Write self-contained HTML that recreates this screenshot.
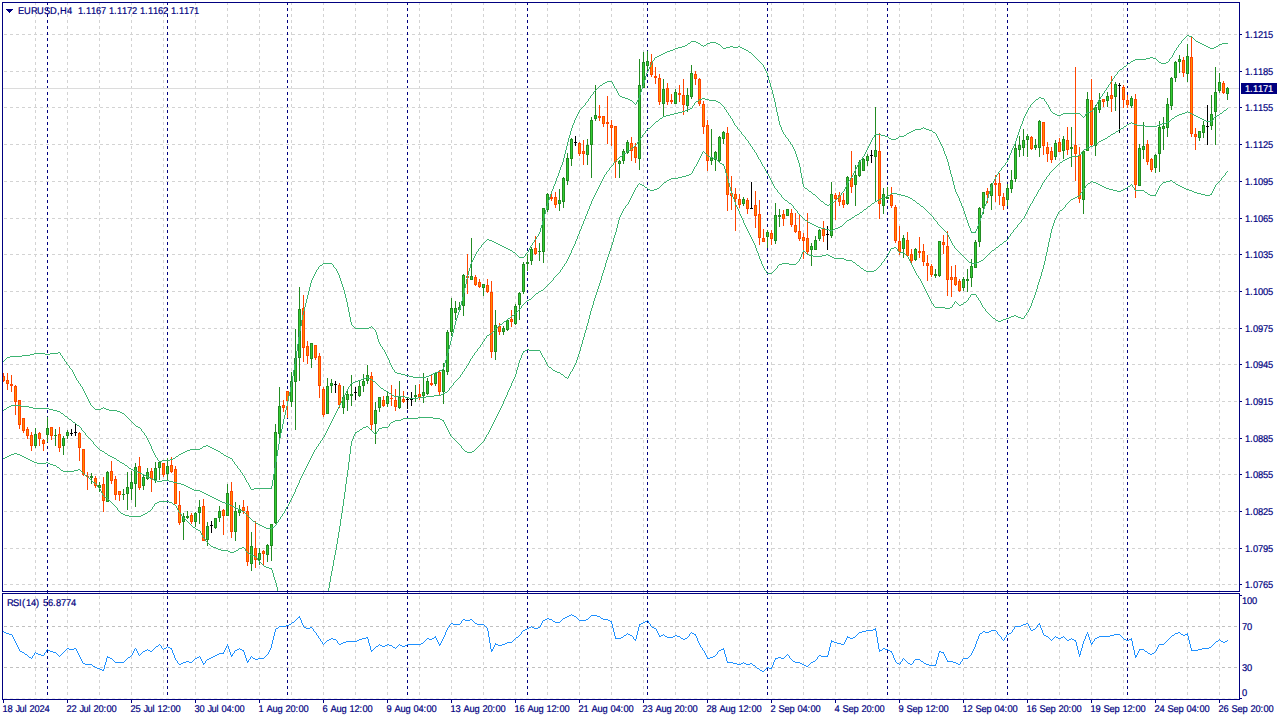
<!DOCTYPE html>
<html><head><meta charset="utf-8"><title>EURUSD,H4</title>
<style>
html,body{margin:0;padding:0;background:#fff;width:1280px;height:720px;overflow:hidden}
svg{display:block;position:absolute;left:0;top:0}
text{font-family:"Liberation Sans",sans-serif;font-size:9.8px;shape-rendering:auto;white-space:pre;text-rendering:geometricPrecision}
</style></head><body>
<svg width="1280" height="720" viewBox="0 0 1280 720" shape-rendering="crispEdges">
<defs>
<pattern id="vd" x="3" y="2" width="32" height="6" patternUnits="userSpaceOnUse"><rect x="0" y="0" width="1" height="3" fill="#D3D3D3"/></pattern>
<pattern id="hd" x="4" y="0" width="6" height="1" patternUnits="userSpaceOnUse"><rect x="0" y="0" width="3" height="1" fill="#D3D3D3"/></pattern>
<pattern id="hl" x="4" y="0" width="6" height="1" patternUnits="userSpaceOnUse"><rect x="0" y="0" width="3" height="1" fill="#C0C0C0"/></pattern>
<pattern id="sd" x="47" y="2" width="120" height="6" patternUnits="userSpaceOnUse"><rect x="0" y="0" width="1" height="3" fill="#000080"/></pattern>
</defs>
<rect x="35" y="3" width="1204" height="695" fill="url(#vd)"/>
<rect x="3" y="34" width="1236" height="1" fill="url(#hd)"/>
<rect x="3" y="71" width="1236" height="1" fill="url(#hd)"/>
<rect x="3" y="107" width="1236" height="1" fill="url(#hd)"/>
<rect x="3" y="144" width="1236" height="1" fill="url(#hd)"/>
<rect x="3" y="181" width="1236" height="1" fill="url(#hd)"/>
<rect x="3" y="218" width="1236" height="1" fill="url(#hd)"/>
<rect x="3" y="254" width="1236" height="1" fill="url(#hd)"/>
<rect x="3" y="291" width="1236" height="1" fill="url(#hd)"/>
<rect x="3" y="328" width="1236" height="1" fill="url(#hd)"/>
<rect x="3" y="364" width="1236" height="1" fill="url(#hd)"/>
<rect x="3" y="401" width="1236" height="1" fill="url(#hd)"/>
<rect x="3" y="438" width="1236" height="1" fill="url(#hd)"/>
<rect x="3" y="474" width="1236" height="1" fill="url(#hd)"/>
<rect x="3" y="511" width="1236" height="1" fill="url(#hd)"/>
<rect x="3" y="548" width="1236" height="1" fill="url(#hd)"/>
<rect x="3" y="584" width="1236" height="1" fill="url(#hd)"/>
<rect x="3" y="626" width="1236" height="1" fill="url(#hl)"/>
<rect x="3" y="667" width="1236" height="1" fill="url(#hl)"/>
<rect x="3" y="698" width="1236" height="1" fill="url(#hd)" opacity="0.5"/>
<rect x="47" y="3" width="1192" height="695" fill="url(#sd)"/>
<rect x="3" y="88" width="1236" height="1" fill="#DCDCDC"/>
<rect x="3" y="373" width="1" height="9" fill="#FF4500"/>
<rect x="2" y="376" width="3" height="5" fill="#FF4500"/>
<rect x="3" y="377" width="1" height="3" fill="#FF8C00"/>
<rect x="7" y="373" width="1" height="17" fill="#FF4500"/>
<rect x="6" y="380" width="3" height="4" fill="#FF4500"/>
<rect x="7" y="381" width="1" height="2" fill="#FF8C00"/>
<rect x="11" y="375" width="1" height="17" fill="#FF4500"/>
<rect x="10" y="384" width="3" height="2" fill="#FF4500"/>
<rect x="15" y="385" width="1" height="30" fill="#FF4500"/>
<rect x="14" y="386" width="3" height="16" fill="#FF4500"/>
<rect x="15" y="387" width="1" height="14" fill="#FF8C00"/>
<rect x="19" y="400" width="1" height="29" fill="#FF4500"/>
<rect x="18" y="400" width="3" height="25" fill="#FF4500"/>
<rect x="19" y="401" width="1" height="23" fill="#FF8C00"/>
<rect x="23" y="418" width="1" height="15" fill="#FF4500"/>
<rect x="22" y="418" width="3" height="13" fill="#FF4500"/>
<rect x="23" y="419" width="1" height="11" fill="#FF8C00"/>
<rect x="27" y="427" width="1" height="12" fill="#FF4500"/>
<rect x="26" y="429" width="3" height="7" fill="#FF4500"/>
<rect x="27" y="430" width="1" height="5" fill="#FF8C00"/>
<rect x="31" y="432" width="1" height="19" fill="#FF4500"/>
<rect x="30" y="435" width="3" height="11" fill="#FF4500"/>
<rect x="31" y="436" width="1" height="9" fill="#FF8C00"/>
<rect x="35" y="428" width="1" height="20" fill="#228B22"/>
<rect x="34" y="434" width="3" height="12" fill="#228B22"/>
<rect x="35" y="435" width="1" height="10" fill="#32CD32"/>
<rect x="39" y="432" width="1" height="14" fill="#FF4500"/>
<rect x="38" y="433" width="3" height="6" fill="#FF4500"/>
<rect x="39" y="434" width="1" height="4" fill="#FF8C00"/>
<rect x="43" y="439" width="1" height="12" fill="#FF4500"/>
<rect x="42" y="440" width="3" height="4" fill="#FF4500"/>
<rect x="43" y="441" width="1" height="2" fill="#FF8C00"/>
<rect x="47" y="417" width="1" height="25" fill="#228B22"/>
<rect x="46" y="428" width="3" height="7" fill="#228B22"/>
<rect x="47" y="429" width="1" height="5" fill="#32CD32"/>
<rect x="51" y="427" width="1" height="13" fill="#FF4500"/>
<rect x="50" y="427" width="3" height="9" fill="#FF4500"/>
<rect x="51" y="428" width="1" height="7" fill="#FF8C00"/>
<rect x="55" y="429" width="1" height="17" fill="#228B22"/>
<rect x="54" y="435" width="3" height="1" fill="#228B22"/>
<rect x="59" y="427" width="1" height="25" fill="#FF4500"/>
<rect x="58" y="434" width="3" height="14" fill="#FF4500"/>
<rect x="59" y="435" width="1" height="12" fill="#FF8C00"/>
<rect x="63" y="436" width="1" height="19" fill="#228B22"/>
<rect x="62" y="438" width="3" height="8" fill="#228B22"/>
<rect x="63" y="439" width="1" height="6" fill="#32CD32"/>
<rect x="67" y="430" width="1" height="9" fill="#228B22"/>
<rect x="66" y="432" width="3" height="4" fill="#228B22"/>
<rect x="67" y="433" width="1" height="2" fill="#32CD32"/>
<rect x="71" y="429" width="1" height="7" fill="#000"/>
<rect x="70" y="433" width="3" height="1" fill="#000"/>
<rect x="75" y="424" width="1" height="12" fill="#000"/>
<rect x="74" y="432" width="3" height="1" fill="#000"/>
<rect x="79" y="432" width="1" height="29" fill="#FF4500"/>
<rect x="78" y="433" width="3" height="15" fill="#FF4500"/>
<rect x="79" y="434" width="1" height="13" fill="#FF8C00"/>
<rect x="83" y="449" width="1" height="27" fill="#FF4500"/>
<rect x="82" y="449" width="3" height="26" fill="#FF4500"/>
<rect x="83" y="450" width="1" height="24" fill="#FF8C00"/>
<rect x="87" y="472" width="1" height="18" fill="#FF4500"/>
<rect x="86" y="476" width="3" height="1" fill="#FF4500"/>
<rect x="91" y="473" width="1" height="11" fill="#228B22"/>
<rect x="90" y="476" width="3" height="2" fill="#228B22"/>
<rect x="95" y="476" width="1" height="12" fill="#FF4500"/>
<rect x="94" y="478" width="3" height="8" fill="#FF4500"/>
<rect x="95" y="479" width="1" height="6" fill="#FF8C00"/>
<rect x="99" y="482" width="1" height="10" fill="#228B22"/>
<rect x="98" y="485" width="3" height="3" fill="#228B22"/>
<rect x="99" y="486" width="1" height="1" fill="#32CD32"/>
<rect x="103" y="477" width="1" height="35" fill="#FF4500"/>
<rect x="102" y="484" width="3" height="17" fill="#FF4500"/>
<rect x="103" y="485" width="1" height="15" fill="#FF8C00"/>
<rect x="107" y="471" width="1" height="31" fill="#228B22"/>
<rect x="106" y="472" width="3" height="30" fill="#228B22"/>
<rect x="107" y="473" width="1" height="28" fill="#32CD32"/>
<rect x="111" y="461" width="1" height="23" fill="#FF4500"/>
<rect x="110" y="471" width="3" height="10" fill="#FF4500"/>
<rect x="111" y="472" width="1" height="8" fill="#FF8C00"/>
<rect x="115" y="476" width="1" height="24" fill="#FF4500"/>
<rect x="114" y="479" width="3" height="16" fill="#FF4500"/>
<rect x="115" y="480" width="1" height="14" fill="#FF8C00"/>
<rect x="119" y="491" width="1" height="10" fill="#FF4500"/>
<rect x="118" y="491" width="3" height="4" fill="#FF4500"/>
<rect x="119" y="492" width="1" height="2" fill="#FF8C00"/>
<rect x="123" y="489" width="1" height="11" fill="#228B22"/>
<rect x="122" y="494" width="3" height="1" fill="#228B22"/>
<rect x="127" y="472" width="1" height="38" fill="#228B22"/>
<rect x="126" y="487" width="3" height="7" fill="#228B22"/>
<rect x="127" y="488" width="1" height="5" fill="#32CD32"/>
<rect x="131" y="471" width="1" height="29" fill="#228B22"/>
<rect x="130" y="482" width="3" height="7" fill="#228B22"/>
<rect x="131" y="483" width="1" height="5" fill="#32CD32"/>
<rect x="135" y="463" width="1" height="44" fill="#228B22"/>
<rect x="134" y="467" width="3" height="17" fill="#228B22"/>
<rect x="135" y="468" width="1" height="15" fill="#32CD32"/>
<rect x="139" y="457" width="1" height="33" fill="#FF4500"/>
<rect x="138" y="466" width="3" height="22" fill="#FF4500"/>
<rect x="139" y="467" width="1" height="20" fill="#FF8C00"/>
<rect x="143" y="475" width="1" height="15" fill="#228B22"/>
<rect x="142" y="477" width="3" height="9" fill="#228B22"/>
<rect x="143" y="478" width="1" height="7" fill="#32CD32"/>
<rect x="147" y="468" width="1" height="12" fill="#228B22"/>
<rect x="146" y="472" width="3" height="7" fill="#228B22"/>
<rect x="147" y="473" width="1" height="5" fill="#32CD32"/>
<rect x="151" y="468" width="1" height="24" fill="#FF4500"/>
<rect x="150" y="471" width="3" height="8" fill="#FF4500"/>
<rect x="151" y="472" width="1" height="6" fill="#FF8C00"/>
<rect x="155" y="462" width="1" height="21" fill="#228B22"/>
<rect x="154" y="468" width="3" height="12" fill="#228B22"/>
<rect x="155" y="469" width="1" height="10" fill="#32CD32"/>
<rect x="159" y="461" width="1" height="19" fill="#228B22"/>
<rect x="158" y="462" width="3" height="6" fill="#228B22"/>
<rect x="159" y="463" width="1" height="4" fill="#32CD32"/>
<rect x="163" y="463" width="1" height="14" fill="#FF4500"/>
<rect x="162" y="463" width="3" height="12" fill="#FF4500"/>
<rect x="163" y="464" width="1" height="10" fill="#FF8C00"/>
<rect x="167" y="458" width="1" height="22" fill="#228B22"/>
<rect x="166" y="466" width="3" height="8" fill="#228B22"/>
<rect x="167" y="467" width="1" height="6" fill="#32CD32"/>
<rect x="171" y="457" width="1" height="16" fill="#FF4500"/>
<rect x="170" y="465" width="3" height="7" fill="#FF4500"/>
<rect x="171" y="466" width="1" height="5" fill="#FF8C00"/>
<rect x="175" y="466" width="1" height="38" fill="#FF4500"/>
<rect x="174" y="469" width="3" height="35" fill="#FF4500"/>
<rect x="175" y="470" width="1" height="33" fill="#FF8C00"/>
<rect x="179" y="491" width="1" height="34" fill="#FF4500"/>
<rect x="178" y="505" width="3" height="18" fill="#FF4500"/>
<rect x="179" y="506" width="1" height="16" fill="#FF8C00"/>
<rect x="183" y="513" width="1" height="27" fill="#228B22"/>
<rect x="182" y="516" width="3" height="6" fill="#228B22"/>
<rect x="183" y="517" width="1" height="4" fill="#32CD32"/>
<rect x="187" y="511" width="1" height="8" fill="#228B22"/>
<rect x="186" y="516" width="3" height="2" fill="#228B22"/>
<rect x="191" y="513" width="1" height="11" fill="#FF4500"/>
<rect x="190" y="515" width="3" height="7" fill="#FF4500"/>
<rect x="191" y="516" width="1" height="5" fill="#FF8C00"/>
<rect x="195" y="512" width="1" height="15" fill="#228B22"/>
<rect x="194" y="513" width="3" height="9" fill="#228B22"/>
<rect x="195" y="514" width="1" height="7" fill="#32CD32"/>
<rect x="199" y="500" width="1" height="24" fill="#228B22"/>
<rect x="198" y="507" width="3" height="6" fill="#228B22"/>
<rect x="199" y="508" width="1" height="4" fill="#32CD32"/>
<rect x="203" y="499" width="1" height="42" fill="#FF4500"/>
<rect x="202" y="506" width="3" height="35" fill="#FF4500"/>
<rect x="203" y="507" width="1" height="33" fill="#FF8C00"/>
<rect x="207" y="522" width="1" height="24" fill="#228B22"/>
<rect x="206" y="526" width="3" height="14" fill="#228B22"/>
<rect x="207" y="527" width="1" height="12" fill="#32CD32"/>
<rect x="211" y="521" width="1" height="12" fill="#000"/>
<rect x="210" y="525" width="3" height="1" fill="#000"/>
<rect x="215" y="518" width="1" height="11" fill="#228B22"/>
<rect x="214" y="518" width="3" height="10" fill="#228B22"/>
<rect x="215" y="519" width="1" height="8" fill="#32CD32"/>
<rect x="219" y="506" width="1" height="16" fill="#228B22"/>
<rect x="218" y="511" width="3" height="7" fill="#228B22"/>
<rect x="219" y="512" width="1" height="5" fill="#32CD32"/>
<rect x="223" y="509" width="1" height="26" fill="#FF4500"/>
<rect x="222" y="510" width="3" height="6" fill="#FF4500"/>
<rect x="223" y="511" width="1" height="4" fill="#FF8C00"/>
<rect x="227" y="484" width="1" height="32" fill="#228B22"/>
<rect x="226" y="493" width="3" height="23" fill="#228B22"/>
<rect x="227" y="494" width="1" height="21" fill="#32CD32"/>
<rect x="231" y="482" width="1" height="56" fill="#FF4500"/>
<rect x="230" y="491" width="3" height="41" fill="#FF4500"/>
<rect x="231" y="492" width="1" height="39" fill="#FF8C00"/>
<rect x="235" y="502" width="1" height="39" fill="#228B22"/>
<rect x="234" y="511" width="3" height="21" fill="#228B22"/>
<rect x="235" y="512" width="1" height="19" fill="#32CD32"/>
<rect x="239" y="505" width="1" height="11" fill="#228B22"/>
<rect x="238" y="509" width="3" height="4" fill="#228B22"/>
<rect x="239" y="510" width="1" height="2" fill="#32CD32"/>
<rect x="243" y="500" width="1" height="14" fill="#FF4500"/>
<rect x="242" y="507" width="3" height="4" fill="#FF4500"/>
<rect x="243" y="508" width="1" height="2" fill="#FF8C00"/>
<rect x="247" y="506" width="1" height="60" fill="#FF4500"/>
<rect x="246" y="511" width="3" height="51" fill="#FF4500"/>
<rect x="247" y="512" width="1" height="49" fill="#FF8C00"/>
<rect x="251" y="532" width="1" height="39" fill="#228B22"/>
<rect x="250" y="546" width="3" height="18" fill="#228B22"/>
<rect x="251" y="547" width="1" height="16" fill="#32CD32"/>
<rect x="255" y="521" width="1" height="47" fill="#FF4500"/>
<rect x="254" y="548" width="3" height="12" fill="#FF4500"/>
<rect x="255" y="549" width="1" height="10" fill="#FF8C00"/>
<rect x="259" y="548" width="1" height="17" fill="#228B22"/>
<rect x="258" y="553" width="3" height="7" fill="#228B22"/>
<rect x="259" y="554" width="1" height="5" fill="#32CD32"/>
<rect x="263" y="550" width="1" height="15" fill="#FF4500"/>
<rect x="262" y="551" width="3" height="3" fill="#FF4500"/>
<rect x="263" y="552" width="1" height="1" fill="#FF8C00"/>
<rect x="267" y="544" width="1" height="18" fill="#228B22"/>
<rect x="266" y="545" width="3" height="10" fill="#228B22"/>
<rect x="267" y="546" width="1" height="8" fill="#32CD32"/>
<rect x="271" y="524" width="1" height="37" fill="#228B22"/>
<rect x="270" y="524" width="3" height="22" fill="#228B22"/>
<rect x="271" y="525" width="1" height="20" fill="#32CD32"/>
<rect x="275" y="424" width="1" height="100" fill="#228B22"/>
<rect x="274" y="432" width="3" height="91" fill="#228B22"/>
<rect x="275" y="433" width="1" height="89" fill="#32CD32"/>
<rect x="279" y="387" width="1" height="53" fill="#228B22"/>
<rect x="278" y="406" width="3" height="28" fill="#228B22"/>
<rect x="279" y="407" width="1" height="26" fill="#32CD32"/>
<rect x="283" y="400" width="1" height="12" fill="#FF4500"/>
<rect x="282" y="405" width="3" height="3" fill="#FF4500"/>
<rect x="283" y="406" width="1" height="1" fill="#FF8C00"/>
<rect x="287" y="391" width="1" height="27" fill="#FF4500"/>
<rect x="286" y="391" width="3" height="10" fill="#FF4500"/>
<rect x="287" y="392" width="1" height="8" fill="#FF8C00"/>
<rect x="291" y="372" width="1" height="35" fill="#228B22"/>
<rect x="290" y="381" width="3" height="21" fill="#228B22"/>
<rect x="291" y="382" width="1" height="19" fill="#32CD32"/>
<rect x="295" y="329" width="1" height="101" fill="#228B22"/>
<rect x="294" y="358" width="3" height="24" fill="#228B22"/>
<rect x="295" y="359" width="1" height="22" fill="#32CD32"/>
<rect x="299" y="287" width="1" height="94" fill="#228B22"/>
<rect x="298" y="309" width="3" height="49" fill="#228B22"/>
<rect x="299" y="310" width="1" height="47" fill="#32CD32"/>
<rect x="303" y="295" width="1" height="67" fill="#FF4500"/>
<rect x="302" y="308" width="3" height="40" fill="#FF4500"/>
<rect x="303" y="309" width="1" height="38" fill="#FF8C00"/>
<rect x="307" y="341" width="1" height="23" fill="#FF4500"/>
<rect x="306" y="346" width="3" height="10" fill="#FF4500"/>
<rect x="307" y="347" width="1" height="8" fill="#FF8C00"/>
<rect x="311" y="343" width="1" height="25" fill="#228B22"/>
<rect x="310" y="343" width="3" height="16" fill="#228B22"/>
<rect x="311" y="344" width="1" height="14" fill="#32CD32"/>
<rect x="315" y="345" width="1" height="15" fill="#FF4500"/>
<rect x="314" y="345" width="3" height="13" fill="#FF4500"/>
<rect x="315" y="346" width="1" height="11" fill="#FF8C00"/>
<rect x="319" y="353" width="1" height="45" fill="#FF4500"/>
<rect x="318" y="356" width="3" height="30" fill="#FF4500"/>
<rect x="319" y="357" width="1" height="28" fill="#FF8C00"/>
<rect x="323" y="387" width="1" height="30" fill="#FF4500"/>
<rect x="322" y="389" width="3" height="26" fill="#FF4500"/>
<rect x="323" y="390" width="1" height="24" fill="#FF8C00"/>
<rect x="327" y="378" width="1" height="36" fill="#228B22"/>
<rect x="326" y="386" width="3" height="28" fill="#228B22"/>
<rect x="327" y="387" width="1" height="26" fill="#32CD32"/>
<rect x="331" y="379" width="1" height="14" fill="#228B22"/>
<rect x="330" y="383" width="3" height="3" fill="#228B22"/>
<rect x="331" y="384" width="1" height="1" fill="#32CD32"/>
<rect x="335" y="381" width="1" height="12" fill="#000"/>
<rect x="334" y="384" width="3" height="1" fill="#000"/>
<rect x="339" y="383" width="1" height="25" fill="#FF4500"/>
<rect x="338" y="385" width="3" height="20" fill="#FF4500"/>
<rect x="339" y="386" width="1" height="18" fill="#FF8C00"/>
<rect x="343" y="386" width="1" height="28" fill="#228B22"/>
<rect x="342" y="397" width="3" height="11" fill="#228B22"/>
<rect x="343" y="398" width="1" height="9" fill="#32CD32"/>
<rect x="347" y="390" width="1" height="21" fill="#228B22"/>
<rect x="346" y="394" width="3" height="6" fill="#228B22"/>
<rect x="347" y="395" width="1" height="4" fill="#32CD32"/>
<rect x="351" y="375" width="1" height="31" fill="#228B22"/>
<rect x="350" y="394" width="3" height="2" fill="#228B22"/>
<rect x="355" y="387" width="1" height="13" fill="#000"/>
<rect x="354" y="392" width="3" height="1" fill="#000"/>
<rect x="359" y="380" width="1" height="17" fill="#228B22"/>
<rect x="358" y="386" width="3" height="10" fill="#228B22"/>
<rect x="359" y="387" width="1" height="8" fill="#32CD32"/>
<rect x="363" y="374" width="1" height="18" fill="#228B22"/>
<rect x="362" y="381" width="3" height="5" fill="#228B22"/>
<rect x="363" y="382" width="1" height="3" fill="#32CD32"/>
<rect x="367" y="365" width="1" height="19" fill="#228B22"/>
<rect x="366" y="375" width="3" height="6" fill="#228B22"/>
<rect x="367" y="376" width="1" height="4" fill="#32CD32"/>
<rect x="371" y="372" width="1" height="59" fill="#FF4500"/>
<rect x="370" y="376" width="3" height="49" fill="#FF4500"/>
<rect x="371" y="377" width="1" height="47" fill="#FF8C00"/>
<rect x="375" y="402" width="1" height="42" fill="#228B22"/>
<rect x="374" y="410" width="3" height="14" fill="#228B22"/>
<rect x="375" y="411" width="1" height="12" fill="#32CD32"/>
<rect x="379" y="397" width="1" height="15" fill="#228B22"/>
<rect x="378" y="397" width="3" height="11" fill="#228B22"/>
<rect x="379" y="398" width="1" height="9" fill="#32CD32"/>
<rect x="383" y="396" width="1" height="11" fill="#FF4500"/>
<rect x="382" y="400" width="3" height="6" fill="#FF4500"/>
<rect x="383" y="401" width="1" height="4" fill="#FF8C00"/>
<rect x="387" y="391" width="1" height="16" fill="#228B22"/>
<rect x="386" y="396" width="3" height="8" fill="#228B22"/>
<rect x="387" y="397" width="1" height="6" fill="#32CD32"/>
<rect x="391" y="385" width="1" height="21" fill="#FF4500"/>
<rect x="390" y="398" width="3" height="1" fill="#FF4500"/>
<rect x="395" y="389" width="1" height="22" fill="#FF4500"/>
<rect x="394" y="400" width="3" height="7" fill="#FF4500"/>
<rect x="395" y="401" width="1" height="5" fill="#FF8C00"/>
<rect x="399" y="381" width="1" height="28" fill="#228B22"/>
<rect x="398" y="397" width="3" height="11" fill="#228B22"/>
<rect x="399" y="398" width="1" height="9" fill="#32CD32"/>
<rect x="403" y="391" width="1" height="12" fill="#FF4500"/>
<rect x="402" y="399" width="3" height="3" fill="#FF4500"/>
<rect x="403" y="400" width="1" height="1" fill="#FF8C00"/>
<rect x="407" y="397" width="1" height="12" fill="#000"/>
<rect x="406" y="399" width="3" height="1" fill="#000"/>
<rect x="411" y="392" width="1" height="14" fill="#000"/>
<rect x="410" y="399" width="3" height="1" fill="#000"/>
<rect x="415" y="385" width="1" height="17" fill="#228B22"/>
<rect x="414" y="395" width="3" height="2" fill="#228B22"/>
<rect x="419" y="384" width="1" height="16" fill="#FF4500"/>
<rect x="418" y="394" width="3" height="3" fill="#FF4500"/>
<rect x="419" y="395" width="1" height="1" fill="#FF8C00"/>
<rect x="423" y="373" width="1" height="30" fill="#228B22"/>
<rect x="422" y="392" width="3" height="4" fill="#228B22"/>
<rect x="423" y="393" width="1" height="2" fill="#32CD32"/>
<rect x="427" y="378" width="1" height="17" fill="#228B22"/>
<rect x="426" y="381" width="3" height="13" fill="#228B22"/>
<rect x="427" y="382" width="1" height="11" fill="#32CD32"/>
<rect x="431" y="375" width="1" height="11" fill="#FF4500"/>
<rect x="430" y="383" width="3" height="2" fill="#FF4500"/>
<rect x="435" y="372" width="1" height="14" fill="#228B22"/>
<rect x="434" y="373" width="3" height="11" fill="#228B22"/>
<rect x="435" y="374" width="1" height="9" fill="#32CD32"/>
<rect x="439" y="370" width="1" height="25" fill="#FF4500"/>
<rect x="438" y="372" width="3" height="20" fill="#FF4500"/>
<rect x="439" y="373" width="1" height="18" fill="#FF8C00"/>
<rect x="443" y="363" width="1" height="41" fill="#228B22"/>
<rect x="442" y="370" width="3" height="22" fill="#228B22"/>
<rect x="443" y="371" width="1" height="20" fill="#32CD32"/>
<rect x="447" y="330" width="1" height="45" fill="#228B22"/>
<rect x="446" y="332" width="3" height="40" fill="#228B22"/>
<rect x="447" y="333" width="1" height="38" fill="#32CD32"/>
<rect x="451" y="298" width="1" height="38" fill="#228B22"/>
<rect x="450" y="308" width="3" height="24" fill="#228B22"/>
<rect x="451" y="309" width="1" height="22" fill="#32CD32"/>
<rect x="455" y="301" width="1" height="19" fill="#228B22"/>
<rect x="454" y="308" width="3" height="5" fill="#228B22"/>
<rect x="455" y="309" width="1" height="3" fill="#32CD32"/>
<rect x="459" y="302" width="1" height="10" fill="#228B22"/>
<rect x="458" y="307" width="3" height="3" fill="#228B22"/>
<rect x="459" y="308" width="1" height="1" fill="#32CD32"/>
<rect x="463" y="274" width="1" height="42" fill="#228B22"/>
<rect x="462" y="275" width="3" height="31" fill="#228B22"/>
<rect x="463" y="276" width="1" height="29" fill="#32CD32"/>
<rect x="467" y="254" width="1" height="40" fill="#FF4500"/>
<rect x="466" y="276" width="3" height="2" fill="#FF4500"/>
<rect x="471" y="238" width="1" height="42" fill="#228B22"/>
<rect x="470" y="276" width="3" height="4" fill="#228B22"/>
<rect x="471" y="277" width="1" height="2" fill="#32CD32"/>
<rect x="475" y="275" width="1" height="11" fill="#FF4500"/>
<rect x="474" y="277" width="3" height="8" fill="#FF4500"/>
<rect x="475" y="278" width="1" height="6" fill="#FF8C00"/>
<rect x="479" y="279" width="1" height="9" fill="#FF4500"/>
<rect x="478" y="282" width="3" height="5" fill="#FF4500"/>
<rect x="479" y="283" width="1" height="3" fill="#FF8C00"/>
<rect x="483" y="284" width="1" height="12" fill="#228B22"/>
<rect x="482" y="284" width="3" height="4" fill="#228B22"/>
<rect x="483" y="285" width="1" height="2" fill="#32CD32"/>
<rect x="487" y="279" width="1" height="14" fill="#FF4500"/>
<rect x="486" y="285" width="3" height="7" fill="#FF4500"/>
<rect x="487" y="286" width="1" height="5" fill="#FF8C00"/>
<rect x="491" y="281" width="1" height="77" fill="#FF4500"/>
<rect x="490" y="292" width="3" height="60" fill="#FF4500"/>
<rect x="491" y="293" width="1" height="58" fill="#FF8C00"/>
<rect x="495" y="310" width="1" height="50" fill="#228B22"/>
<rect x="494" y="325" width="3" height="27" fill="#228B22"/>
<rect x="495" y="326" width="1" height="25" fill="#32CD32"/>
<rect x="499" y="323" width="1" height="12" fill="#FF4500"/>
<rect x="498" y="326" width="3" height="6" fill="#FF4500"/>
<rect x="499" y="327" width="1" height="4" fill="#FF8C00"/>
<rect x="503" y="326" width="1" height="9" fill="#228B22"/>
<rect x="502" y="328" width="3" height="4" fill="#228B22"/>
<rect x="503" y="329" width="1" height="2" fill="#32CD32"/>
<rect x="507" y="319" width="1" height="12" fill="#228B22"/>
<rect x="506" y="320" width="3" height="10" fill="#228B22"/>
<rect x="507" y="321" width="1" height="8" fill="#32CD32"/>
<rect x="511" y="310" width="1" height="17" fill="#FF4500"/>
<rect x="510" y="319" width="3" height="3" fill="#FF4500"/>
<rect x="511" y="320" width="1" height="1" fill="#FF8C00"/>
<rect x="515" y="304" width="1" height="21" fill="#228B22"/>
<rect x="514" y="306" width="3" height="18" fill="#228B22"/>
<rect x="515" y="307" width="1" height="16" fill="#32CD32"/>
<rect x="519" y="292" width="1" height="28" fill="#228B22"/>
<rect x="518" y="293" width="3" height="12" fill="#228B22"/>
<rect x="519" y="294" width="1" height="10" fill="#32CD32"/>
<rect x="523" y="262" width="1" height="32" fill="#228B22"/>
<rect x="522" y="264" width="3" height="28" fill="#228B22"/>
<rect x="523" y="265" width="1" height="26" fill="#32CD32"/>
<rect x="527" y="254" width="1" height="17" fill="#228B22"/>
<rect x="526" y="262" width="3" height="2" fill="#228B22"/>
<rect x="531" y="247" width="1" height="18" fill="#228B22"/>
<rect x="530" y="249" width="3" height="12" fill="#228B22"/>
<rect x="531" y="250" width="1" height="10" fill="#32CD32"/>
<rect x="535" y="236" width="1" height="19" fill="#FF4500"/>
<rect x="534" y="248" width="3" height="6" fill="#FF4500"/>
<rect x="535" y="249" width="1" height="4" fill="#FF8C00"/>
<rect x="539" y="243" width="1" height="18" fill="#228B22"/>
<rect x="538" y="251" width="3" height="1" fill="#228B22"/>
<rect x="543" y="208" width="1" height="55" fill="#228B22"/>
<rect x="542" y="208" width="3" height="44" fill="#228B22"/>
<rect x="543" y="209" width="1" height="42" fill="#32CD32"/>
<rect x="547" y="193" width="1" height="19" fill="#228B22"/>
<rect x="546" y="194" width="3" height="16" fill="#228B22"/>
<rect x="547" y="195" width="1" height="14" fill="#32CD32"/>
<rect x="551" y="194" width="1" height="7" fill="#FF4500"/>
<rect x="550" y="197" width="3" height="2" fill="#FF4500"/>
<rect x="555" y="192" width="1" height="16" fill="#FF4500"/>
<rect x="554" y="197" width="3" height="8" fill="#FF4500"/>
<rect x="555" y="198" width="1" height="6" fill="#FF8C00"/>
<rect x="559" y="189" width="1" height="22" fill="#228B22"/>
<rect x="558" y="200" width="3" height="4" fill="#228B22"/>
<rect x="559" y="201" width="1" height="2" fill="#32CD32"/>
<rect x="563" y="177" width="1" height="31" fill="#228B22"/>
<rect x="562" y="178" width="3" height="24" fill="#228B22"/>
<rect x="563" y="179" width="1" height="22" fill="#32CD32"/>
<rect x="567" y="153" width="1" height="32" fill="#228B22"/>
<rect x="566" y="158" width="3" height="23" fill="#228B22"/>
<rect x="567" y="159" width="1" height="21" fill="#32CD32"/>
<rect x="571" y="138" width="1" height="28" fill="#228B22"/>
<rect x="570" y="139" width="3" height="20" fill="#228B22"/>
<rect x="571" y="140" width="1" height="18" fill="#32CD32"/>
<rect x="575" y="136" width="1" height="10" fill="#000"/>
<rect x="574" y="142" width="3" height="1" fill="#000"/>
<rect x="579" y="142" width="1" height="14" fill="#FF4500"/>
<rect x="578" y="143" width="3" height="11" fill="#FF4500"/>
<rect x="579" y="144" width="1" height="9" fill="#FF8C00"/>
<rect x="583" y="140" width="1" height="25" fill="#FF4500"/>
<rect x="582" y="151" width="3" height="3" fill="#FF4500"/>
<rect x="583" y="152" width="1" height="1" fill="#FF8C00"/>
<rect x="587" y="139" width="1" height="26" fill="#228B22"/>
<rect x="586" y="145" width="3" height="10" fill="#228B22"/>
<rect x="587" y="146" width="1" height="8" fill="#32CD32"/>
<rect x="591" y="117" width="1" height="61" fill="#228B22"/>
<rect x="590" y="120" width="3" height="25" fill="#228B22"/>
<rect x="591" y="121" width="1" height="23" fill="#32CD32"/>
<rect x="595" y="85" width="1" height="36" fill="#228B22"/>
<rect x="594" y="115" width="3" height="4" fill="#228B22"/>
<rect x="595" y="116" width="1" height="2" fill="#32CD32"/>
<rect x="599" y="105" width="1" height="16" fill="#FF4500"/>
<rect x="598" y="116" width="3" height="2" fill="#FF4500"/>
<rect x="603" y="116" width="1" height="11" fill="#FF4500"/>
<rect x="602" y="116" width="3" height="8" fill="#FF4500"/>
<rect x="603" y="117" width="1" height="6" fill="#FF8C00"/>
<rect x="607" y="96" width="1" height="48" fill="#FF4500"/>
<rect x="606" y="122" width="3" height="2" fill="#FF4500"/>
<rect x="611" y="120" width="1" height="26" fill="#FF4500"/>
<rect x="610" y="125" width="3" height="3" fill="#FF4500"/>
<rect x="611" y="126" width="1" height="1" fill="#FF8C00"/>
<rect x="615" y="126" width="1" height="52" fill="#FF4500"/>
<rect x="614" y="126" width="3" height="36" fill="#FF4500"/>
<rect x="615" y="127" width="1" height="34" fill="#FF8C00"/>
<rect x="619" y="160" width="1" height="18" fill="#228B22"/>
<rect x="618" y="161" width="3" height="3" fill="#228B22"/>
<rect x="619" y="162" width="1" height="1" fill="#32CD32"/>
<rect x="623" y="149" width="1" height="15" fill="#228B22"/>
<rect x="622" y="151" width="3" height="10" fill="#228B22"/>
<rect x="623" y="152" width="1" height="8" fill="#32CD32"/>
<rect x="627" y="140" width="1" height="14" fill="#228B22"/>
<rect x="626" y="142" width="3" height="11" fill="#228B22"/>
<rect x="627" y="143" width="1" height="9" fill="#32CD32"/>
<rect x="631" y="137" width="1" height="24" fill="#FF4500"/>
<rect x="630" y="143" width="3" height="8" fill="#FF4500"/>
<rect x="631" y="144" width="1" height="6" fill="#FF8C00"/>
<rect x="635" y="143" width="1" height="20" fill="#FF4500"/>
<rect x="634" y="147" width="3" height="11" fill="#FF4500"/>
<rect x="635" y="148" width="1" height="9" fill="#FF8C00"/>
<rect x="639" y="59" width="1" height="111" fill="#228B22"/>
<rect x="638" y="85" width="3" height="74" fill="#228B22"/>
<rect x="639" y="86" width="1" height="72" fill="#32CD32"/>
<rect x="643" y="52" width="1" height="36" fill="#228B22"/>
<rect x="642" y="62" width="3" height="26" fill="#228B22"/>
<rect x="643" y="63" width="1" height="24" fill="#32CD32"/>
<rect x="647" y="51" width="1" height="19" fill="#228B22"/>
<rect x="646" y="61" width="3" height="5" fill="#228B22"/>
<rect x="647" y="62" width="1" height="3" fill="#32CD32"/>
<rect x="651" y="54" width="1" height="23" fill="#FF4500"/>
<rect x="650" y="62" width="3" height="13" fill="#FF4500"/>
<rect x="651" y="63" width="1" height="11" fill="#FF8C00"/>
<rect x="655" y="67" width="1" height="17" fill="#FF4500"/>
<rect x="654" y="76" width="3" height="2" fill="#FF4500"/>
<rect x="659" y="74" width="1" height="31" fill="#FF4500"/>
<rect x="658" y="78" width="3" height="24" fill="#FF4500"/>
<rect x="659" y="79" width="1" height="22" fill="#FF8C00"/>
<rect x="663" y="79" width="1" height="37" fill="#228B22"/>
<rect x="662" y="89" width="3" height="15" fill="#228B22"/>
<rect x="663" y="90" width="1" height="13" fill="#32CD32"/>
<rect x="667" y="83" width="1" height="22" fill="#FF4500"/>
<rect x="666" y="88" width="3" height="14" fill="#FF4500"/>
<rect x="667" y="89" width="1" height="12" fill="#FF8C00"/>
<rect x="671" y="94" width="1" height="10" fill="#FF4500"/>
<rect x="670" y="100" width="3" height="2" fill="#FF4500"/>
<rect x="675" y="89" width="1" height="15" fill="#228B22"/>
<rect x="674" y="92" width="3" height="12" fill="#228B22"/>
<rect x="675" y="93" width="1" height="10" fill="#32CD32"/>
<rect x="679" y="85" width="1" height="17" fill="#FF4500"/>
<rect x="678" y="93" width="3" height="2" fill="#FF4500"/>
<rect x="683" y="79" width="1" height="36" fill="#FF4500"/>
<rect x="682" y="95" width="3" height="10" fill="#FF4500"/>
<rect x="683" y="96" width="1" height="8" fill="#FF8C00"/>
<rect x="687" y="88" width="1" height="24" fill="#228B22"/>
<rect x="686" y="95" width="3" height="11" fill="#228B22"/>
<rect x="687" y="96" width="1" height="9" fill="#32CD32"/>
<rect x="691" y="65" width="1" height="34" fill="#228B22"/>
<rect x="690" y="73" width="3" height="24" fill="#228B22"/>
<rect x="691" y="74" width="1" height="22" fill="#32CD32"/>
<rect x="695" y="71" width="1" height="14" fill="#FF4500"/>
<rect x="694" y="74" width="3" height="5" fill="#FF4500"/>
<rect x="695" y="75" width="1" height="3" fill="#FF8C00"/>
<rect x="699" y="78" width="1" height="28" fill="#FF4500"/>
<rect x="698" y="79" width="3" height="25" fill="#FF4500"/>
<rect x="699" y="80" width="1" height="23" fill="#FF8C00"/>
<rect x="703" y="101" width="1" height="33" fill="#FF4500"/>
<rect x="702" y="104" width="3" height="23" fill="#FF4500"/>
<rect x="703" y="105" width="1" height="21" fill="#FF8C00"/>
<rect x="707" y="120" width="1" height="51" fill="#FF4500"/>
<rect x="706" y="125" width="3" height="36" fill="#FF4500"/>
<rect x="707" y="126" width="1" height="34" fill="#FF8C00"/>
<rect x="711" y="129" width="1" height="36" fill="#228B22"/>
<rect x="710" y="158" width="3" height="3" fill="#228B22"/>
<rect x="711" y="159" width="1" height="1" fill="#32CD32"/>
<rect x="715" y="151" width="1" height="20" fill="#228B22"/>
<rect x="714" y="152" width="3" height="8" fill="#228B22"/>
<rect x="715" y="153" width="1" height="6" fill="#32CD32"/>
<rect x="719" y="136" width="1" height="26" fill="#228B22"/>
<rect x="718" y="137" width="3" height="24" fill="#228B22"/>
<rect x="719" y="138" width="1" height="22" fill="#32CD32"/>
<rect x="723" y="131" width="1" height="13" fill="#228B22"/>
<rect x="722" y="132" width="3" height="7" fill="#228B22"/>
<rect x="723" y="133" width="1" height="5" fill="#32CD32"/>
<rect x="727" y="127" width="1" height="84" fill="#FF4500"/>
<rect x="726" y="133" width="3" height="62" fill="#FF4500"/>
<rect x="727" y="134" width="1" height="60" fill="#FF8C00"/>
<rect x="731" y="176" width="1" height="34" fill="#FF4500"/>
<rect x="730" y="193" width="3" height="3" fill="#FF4500"/>
<rect x="731" y="194" width="1" height="1" fill="#FF8C00"/>
<rect x="735" y="188" width="1" height="43" fill="#FF4500"/>
<rect x="734" y="194" width="3" height="5" fill="#FF4500"/>
<rect x="735" y="195" width="1" height="3" fill="#FF8C00"/>
<rect x="739" y="194" width="1" height="14" fill="#FF4500"/>
<rect x="738" y="199" width="3" height="6" fill="#FF4500"/>
<rect x="739" y="200" width="1" height="4" fill="#FF8C00"/>
<rect x="743" y="197" width="1" height="9" fill="#228B22"/>
<rect x="742" y="199" width="3" height="5" fill="#228B22"/>
<rect x="743" y="200" width="1" height="3" fill="#32CD32"/>
<rect x="747" y="198" width="1" height="16" fill="#FF4500"/>
<rect x="746" y="200" width="3" height="9" fill="#FF4500"/>
<rect x="747" y="201" width="1" height="7" fill="#FF8C00"/>
<rect x="751" y="182" width="1" height="27" fill="#000"/>
<rect x="750" y="208" width="3" height="1" fill="#000"/>
<rect x="755" y="191" width="1" height="37" fill="#FF4500"/>
<rect x="754" y="205" width="3" height="11" fill="#FF4500"/>
<rect x="755" y="206" width="1" height="9" fill="#FF8C00"/>
<rect x="759" y="200" width="1" height="45" fill="#FF4500"/>
<rect x="758" y="214" width="3" height="24" fill="#FF4500"/>
<rect x="759" y="215" width="1" height="22" fill="#FF8C00"/>
<rect x="763" y="229" width="1" height="13" fill="#FF4500"/>
<rect x="762" y="238" width="3" height="4" fill="#FF4500"/>
<rect x="763" y="239" width="1" height="2" fill="#FF8C00"/>
<rect x="767" y="230" width="1" height="18" fill="#228B22"/>
<rect x="766" y="232" width="3" height="5" fill="#228B22"/>
<rect x="767" y="233" width="1" height="3" fill="#32CD32"/>
<rect x="771" y="230" width="1" height="15" fill="#FF4500"/>
<rect x="770" y="233" width="3" height="6" fill="#FF4500"/>
<rect x="771" y="234" width="1" height="4" fill="#FF8C00"/>
<rect x="775" y="203" width="1" height="41" fill="#228B22"/>
<rect x="774" y="215" width="3" height="26" fill="#228B22"/>
<rect x="775" y="216" width="1" height="24" fill="#32CD32"/>
<rect x="779" y="209" width="1" height="18" fill="#228B22"/>
<rect x="778" y="215" width="3" height="2" fill="#228B22"/>
<rect x="783" y="210" width="1" height="16" fill="#FF4500"/>
<rect x="782" y="214" width="3" height="5" fill="#FF4500"/>
<rect x="783" y="215" width="1" height="3" fill="#FF8C00"/>
<rect x="787" y="209" width="1" height="7" fill="#228B22"/>
<rect x="786" y="209" width="3" height="7" fill="#228B22"/>
<rect x="787" y="210" width="1" height="5" fill="#32CD32"/>
<rect x="791" y="209" width="1" height="18" fill="#FF4500"/>
<rect x="790" y="213" width="3" height="12" fill="#FF4500"/>
<rect x="791" y="214" width="1" height="10" fill="#FF8C00"/>
<rect x="795" y="213" width="1" height="20" fill="#FF4500"/>
<rect x="794" y="225" width="3" height="7" fill="#FF4500"/>
<rect x="795" y="226" width="1" height="5" fill="#FF8C00"/>
<rect x="799" y="215" width="1" height="26" fill="#FF4500"/>
<rect x="798" y="231" width="3" height="8" fill="#FF4500"/>
<rect x="799" y="232" width="1" height="6" fill="#FF8C00"/>
<rect x="803" y="233" width="1" height="26" fill="#FF4500"/>
<rect x="802" y="237" width="3" height="4" fill="#FF4500"/>
<rect x="803" y="238" width="1" height="2" fill="#FF8C00"/>
<rect x="807" y="213" width="1" height="42" fill="#FF4500"/>
<rect x="806" y="238" width="3" height="14" fill="#FF4500"/>
<rect x="807" y="239" width="1" height="12" fill="#FF8C00"/>
<rect x="811" y="243" width="1" height="23" fill="#228B22"/>
<rect x="810" y="246" width="3" height="4" fill="#228B22"/>
<rect x="811" y="247" width="1" height="2" fill="#32CD32"/>
<rect x="815" y="236" width="1" height="14" fill="#228B22"/>
<rect x="814" y="240" width="3" height="10" fill="#228B22"/>
<rect x="815" y="241" width="1" height="8" fill="#32CD32"/>
<rect x="819" y="229" width="1" height="12" fill="#228B22"/>
<rect x="818" y="230" width="3" height="9" fill="#228B22"/>
<rect x="819" y="231" width="1" height="7" fill="#32CD32"/>
<rect x="823" y="221" width="1" height="21" fill="#FF4500"/>
<rect x="822" y="229" width="3" height="7" fill="#FF4500"/>
<rect x="823" y="230" width="1" height="5" fill="#FF8C00"/>
<rect x="827" y="226" width="1" height="24" fill="#000"/>
<rect x="826" y="234" width="3" height="1" fill="#000"/>
<rect x="831" y="182" width="1" height="56" fill="#228B22"/>
<rect x="830" y="194" width="3" height="42" fill="#228B22"/>
<rect x="831" y="195" width="1" height="40" fill="#32CD32"/>
<rect x="835" y="193" width="1" height="27" fill="#FF4500"/>
<rect x="834" y="195" width="3" height="4" fill="#FF4500"/>
<rect x="835" y="196" width="1" height="2" fill="#FF8C00"/>
<rect x="839" y="192" width="1" height="14" fill="#FF4500"/>
<rect x="838" y="195" width="3" height="7" fill="#FF4500"/>
<rect x="839" y="196" width="1" height="5" fill="#FF8C00"/>
<rect x="843" y="193" width="1" height="15" fill="#FF4500"/>
<rect x="842" y="200" width="3" height="5" fill="#FF4500"/>
<rect x="843" y="201" width="1" height="3" fill="#FF8C00"/>
<rect x="847" y="176" width="1" height="29" fill="#228B22"/>
<rect x="846" y="177" width="3" height="27" fill="#228B22"/>
<rect x="847" y="178" width="1" height="25" fill="#32CD32"/>
<rect x="851" y="151" width="1" height="42" fill="#FF4500"/>
<rect x="850" y="178" width="3" height="9" fill="#FF4500"/>
<rect x="851" y="179" width="1" height="7" fill="#FF8C00"/>
<rect x="855" y="165" width="1" height="41" fill="#228B22"/>
<rect x="854" y="175" width="3" height="10" fill="#228B22"/>
<rect x="855" y="176" width="1" height="8" fill="#32CD32"/>
<rect x="859" y="160" width="1" height="17" fill="#228B22"/>
<rect x="858" y="162" width="3" height="14" fill="#228B22"/>
<rect x="859" y="163" width="1" height="12" fill="#32CD32"/>
<rect x="863" y="158" width="1" height="13" fill="#228B22"/>
<rect x="862" y="159" width="3" height="12" fill="#228B22"/>
<rect x="863" y="160" width="1" height="10" fill="#32CD32"/>
<rect x="867" y="154" width="1" height="12" fill="#228B22"/>
<rect x="866" y="156" width="3" height="5" fill="#228B22"/>
<rect x="867" y="157" width="1" height="3" fill="#32CD32"/>
<rect x="871" y="150" width="1" height="13" fill="#000"/>
<rect x="870" y="155" width="3" height="1" fill="#000"/>
<rect x="875" y="107" width="1" height="94" fill="#228B22"/>
<rect x="874" y="150" width="3" height="7" fill="#228B22"/>
<rect x="875" y="151" width="1" height="5" fill="#32CD32"/>
<rect x="879" y="133" width="1" height="86" fill="#FF4500"/>
<rect x="878" y="151" width="3" height="53" fill="#FF4500"/>
<rect x="879" y="152" width="1" height="51" fill="#FF8C00"/>
<rect x="883" y="188" width="1" height="26" fill="#228B22"/>
<rect x="882" y="194" width="3" height="12" fill="#228B22"/>
<rect x="883" y="195" width="1" height="10" fill="#32CD32"/>
<rect x="887" y="187" width="1" height="12" fill="#228B22"/>
<rect x="886" y="197" width="3" height="2" fill="#228B22"/>
<rect x="891" y="187" width="1" height="21" fill="#FF4500"/>
<rect x="890" y="195" width="3" height="11" fill="#FF4500"/>
<rect x="891" y="196" width="1" height="9" fill="#FF8C00"/>
<rect x="895" y="205" width="1" height="38" fill="#FF4500"/>
<rect x="894" y="207" width="3" height="34" fill="#FF4500"/>
<rect x="895" y="208" width="1" height="32" fill="#FF8C00"/>
<rect x="899" y="226" width="1" height="29" fill="#FF4500"/>
<rect x="898" y="241" width="3" height="11" fill="#FF4500"/>
<rect x="899" y="242" width="1" height="9" fill="#FF8C00"/>
<rect x="903" y="235" width="1" height="23" fill="#228B22"/>
<rect x="902" y="238" width="3" height="11" fill="#228B22"/>
<rect x="903" y="239" width="1" height="9" fill="#32CD32"/>
<rect x="907" y="232" width="1" height="24" fill="#FF4500"/>
<rect x="906" y="240" width="3" height="16" fill="#FF4500"/>
<rect x="907" y="241" width="1" height="14" fill="#FF8C00"/>
<rect x="911" y="249" width="1" height="16" fill="#FF4500"/>
<rect x="910" y="254" width="3" height="7" fill="#FF4500"/>
<rect x="911" y="255" width="1" height="5" fill="#FF8C00"/>
<rect x="915" y="248" width="1" height="13" fill="#228B22"/>
<rect x="914" y="249" width="3" height="11" fill="#228B22"/>
<rect x="915" y="250" width="1" height="9" fill="#32CD32"/>
<rect x="919" y="237" width="1" height="21" fill="#FF4500"/>
<rect x="918" y="251" width="3" height="2" fill="#FF4500"/>
<rect x="923" y="244" width="1" height="22" fill="#FF4500"/>
<rect x="922" y="251" width="3" height="11" fill="#FF4500"/>
<rect x="923" y="252" width="1" height="9" fill="#FF8C00"/>
<rect x="927" y="255" width="1" height="26" fill="#FF4500"/>
<rect x="926" y="263" width="3" height="3" fill="#FF4500"/>
<rect x="927" y="264" width="1" height="1" fill="#FF8C00"/>
<rect x="931" y="264" width="1" height="13" fill="#FF4500"/>
<rect x="930" y="266" width="3" height="9" fill="#FF4500"/>
<rect x="931" y="267" width="1" height="7" fill="#FF8C00"/>
<rect x="935" y="269" width="1" height="9" fill="#228B22"/>
<rect x="934" y="274" width="3" height="2" fill="#228B22"/>
<rect x="939" y="241" width="1" height="36" fill="#228B22"/>
<rect x="938" y="241" width="3" height="35" fill="#228B22"/>
<rect x="939" y="242" width="1" height="33" fill="#32CD32"/>
<rect x="943" y="235" width="1" height="19" fill="#FF4500"/>
<rect x="942" y="242" width="3" height="3" fill="#FF4500"/>
<rect x="943" y="243" width="1" height="1" fill="#FF8C00"/>
<rect x="947" y="231" width="1" height="65" fill="#FF4500"/>
<rect x="946" y="246" width="3" height="34" fill="#FF4500"/>
<rect x="947" y="247" width="1" height="32" fill="#FF8C00"/>
<rect x="951" y="266" width="1" height="31" fill="#FF4500"/>
<rect x="950" y="277" width="3" height="3" fill="#FF4500"/>
<rect x="951" y="278" width="1" height="1" fill="#FF8C00"/>
<rect x="955" y="265" width="1" height="21" fill="#FF4500"/>
<rect x="954" y="277" width="3" height="8" fill="#FF4500"/>
<rect x="955" y="278" width="1" height="6" fill="#FF8C00"/>
<rect x="959" y="279" width="1" height="13" fill="#FF4500"/>
<rect x="958" y="281" width="3" height="10" fill="#FF4500"/>
<rect x="959" y="282" width="1" height="8" fill="#FF8C00"/>
<rect x="963" y="277" width="1" height="14" fill="#228B22"/>
<rect x="962" y="279" width="3" height="9" fill="#228B22"/>
<rect x="963" y="280" width="1" height="7" fill="#32CD32"/>
<rect x="967" y="269" width="1" height="23" fill="#228B22"/>
<rect x="966" y="279" width="3" height="2" fill="#228B22"/>
<rect x="971" y="259" width="1" height="28" fill="#228B22"/>
<rect x="970" y="266" width="3" height="12" fill="#228B22"/>
<rect x="971" y="267" width="1" height="10" fill="#32CD32"/>
<rect x="975" y="240" width="1" height="28" fill="#228B22"/>
<rect x="974" y="242" width="3" height="26" fill="#228B22"/>
<rect x="975" y="243" width="1" height="24" fill="#32CD32"/>
<rect x="979" y="207" width="1" height="40" fill="#228B22"/>
<rect x="978" y="208" width="3" height="34" fill="#228B22"/>
<rect x="979" y="209" width="1" height="32" fill="#32CD32"/>
<rect x="983" y="192" width="1" height="22" fill="#228B22"/>
<rect x="982" y="192" width="3" height="16" fill="#228B22"/>
<rect x="983" y="193" width="1" height="14" fill="#32CD32"/>
<rect x="987" y="188" width="1" height="15" fill="#FF4500"/>
<rect x="986" y="191" width="3" height="4" fill="#FF4500"/>
<rect x="987" y="192" width="1" height="2" fill="#FF8C00"/>
<rect x="991" y="183" width="1" height="27" fill="#228B22"/>
<rect x="990" y="184" width="3" height="12" fill="#228B22"/>
<rect x="991" y="185" width="1" height="10" fill="#32CD32"/>
<rect x="995" y="175" width="1" height="27" fill="#FF4500"/>
<rect x="994" y="183" width="3" height="2" fill="#FF4500"/>
<rect x="999" y="173" width="1" height="32" fill="#FF4500"/>
<rect x="998" y="183" width="3" height="13" fill="#FF4500"/>
<rect x="999" y="184" width="1" height="11" fill="#FF8C00"/>
<rect x="1003" y="193" width="1" height="17" fill="#FF4500"/>
<rect x="1002" y="197" width="3" height="9" fill="#FF4500"/>
<rect x="1003" y="198" width="1" height="7" fill="#FF8C00"/>
<rect x="1007" y="184" width="1" height="22" fill="#228B22"/>
<rect x="1006" y="188" width="3" height="12" fill="#228B22"/>
<rect x="1007" y="189" width="1" height="10" fill="#32CD32"/>
<rect x="1011" y="170" width="1" height="23" fill="#228B22"/>
<rect x="1010" y="180" width="3" height="9" fill="#228B22"/>
<rect x="1011" y="181" width="1" height="7" fill="#32CD32"/>
<rect x="1015" y="144" width="1" height="38" fill="#228B22"/>
<rect x="1014" y="148" width="3" height="31" fill="#228B22"/>
<rect x="1015" y="149" width="1" height="29" fill="#32CD32"/>
<rect x="1019" y="136" width="1" height="21" fill="#228B22"/>
<rect x="1018" y="145" width="3" height="5" fill="#228B22"/>
<rect x="1019" y="146" width="1" height="3" fill="#32CD32"/>
<rect x="1023" y="129" width="1" height="27" fill="#228B22"/>
<rect x="1022" y="140" width="3" height="8" fill="#228B22"/>
<rect x="1023" y="141" width="1" height="6" fill="#32CD32"/>
<rect x="1027" y="134" width="1" height="23" fill="#228B22"/>
<rect x="1026" y="136" width="3" height="4" fill="#228B22"/>
<rect x="1027" y="137" width="1" height="2" fill="#32CD32"/>
<rect x="1031" y="136" width="1" height="14" fill="#FF4500"/>
<rect x="1030" y="137" width="3" height="12" fill="#FF4500"/>
<rect x="1031" y="138" width="1" height="10" fill="#FF8C00"/>
<rect x="1035" y="139" width="1" height="11" fill="#228B22"/>
<rect x="1034" y="145" width="3" height="3" fill="#228B22"/>
<rect x="1035" y="146" width="1" height="1" fill="#32CD32"/>
<rect x="1039" y="120" width="1" height="37" fill="#228B22"/>
<rect x="1038" y="121" width="3" height="27" fill="#228B22"/>
<rect x="1039" y="122" width="1" height="25" fill="#32CD32"/>
<rect x="1043" y="122" width="1" height="33" fill="#FF4500"/>
<rect x="1042" y="122" width="3" height="24" fill="#FF4500"/>
<rect x="1043" y="123" width="1" height="22" fill="#FF8C00"/>
<rect x="1047" y="142" width="1" height="20" fill="#FF4500"/>
<rect x="1046" y="147" width="3" height="7" fill="#FF4500"/>
<rect x="1047" y="148" width="1" height="5" fill="#FF8C00"/>
<rect x="1051" y="147" width="1" height="16" fill="#FF4500"/>
<rect x="1050" y="151" width="3" height="9" fill="#FF4500"/>
<rect x="1051" y="152" width="1" height="7" fill="#FF8C00"/>
<rect x="1055" y="140" width="1" height="20" fill="#228B22"/>
<rect x="1054" y="143" width="3" height="14" fill="#228B22"/>
<rect x="1055" y="144" width="1" height="12" fill="#32CD32"/>
<rect x="1059" y="138" width="1" height="14" fill="#FF4500"/>
<rect x="1058" y="142" width="3" height="10" fill="#FF4500"/>
<rect x="1059" y="143" width="1" height="8" fill="#FF8C00"/>
<rect x="1063" y="136" width="1" height="23" fill="#228B22"/>
<rect x="1062" y="139" width="3" height="12" fill="#228B22"/>
<rect x="1063" y="140" width="1" height="10" fill="#32CD32"/>
<rect x="1067" y="127" width="1" height="28" fill="#FF4500"/>
<rect x="1066" y="140" width="3" height="10" fill="#FF4500"/>
<rect x="1067" y="141" width="1" height="8" fill="#FF8C00"/>
<rect x="1071" y="127" width="1" height="40" fill="#228B22"/>
<rect x="1070" y="147" width="3" height="2" fill="#228B22"/>
<rect x="1075" y="67" width="1" height="114" fill="#FF4500"/>
<rect x="1074" y="145" width="3" height="9" fill="#FF4500"/>
<rect x="1075" y="146" width="1" height="7" fill="#FF8C00"/>
<rect x="1079" y="147" width="1" height="56" fill="#FF4500"/>
<rect x="1078" y="155" width="3" height="44" fill="#FF4500"/>
<rect x="1079" y="156" width="1" height="42" fill="#FF8C00"/>
<rect x="1083" y="150" width="1" height="64" fill="#228B22"/>
<rect x="1082" y="151" width="3" height="49" fill="#228B22"/>
<rect x="1083" y="152" width="1" height="47" fill="#32CD32"/>
<rect x="1087" y="92" width="1" height="59" fill="#228B22"/>
<rect x="1086" y="99" width="3" height="52" fill="#228B22"/>
<rect x="1087" y="100" width="1" height="50" fill="#32CD32"/>
<rect x="1091" y="79" width="1" height="67" fill="#FF4500"/>
<rect x="1090" y="100" width="3" height="45" fill="#FF4500"/>
<rect x="1091" y="101" width="1" height="43" fill="#FF8C00"/>
<rect x="1095" y="105" width="1" height="51" fill="#228B22"/>
<rect x="1094" y="107" width="3" height="39" fill="#228B22"/>
<rect x="1095" y="108" width="1" height="37" fill="#32CD32"/>
<rect x="1099" y="93" width="1" height="20" fill="#228B22"/>
<rect x="1098" y="100" width="3" height="10" fill="#228B22"/>
<rect x="1099" y="101" width="1" height="8" fill="#32CD32"/>
<rect x="1103" y="99" width="1" height="8" fill="#FF4500"/>
<rect x="1102" y="99" width="3" height="3" fill="#FF4500"/>
<rect x="1103" y="100" width="1" height="1" fill="#FF8C00"/>
<rect x="1107" y="92" width="1" height="15" fill="#228B22"/>
<rect x="1106" y="96" width="3" height="5" fill="#228B22"/>
<rect x="1107" y="97" width="1" height="3" fill="#32CD32"/>
<rect x="1111" y="76" width="1" height="36" fill="#FF4500"/>
<rect x="1110" y="95" width="3" height="4" fill="#FF4500"/>
<rect x="1111" y="96" width="1" height="2" fill="#FF8C00"/>
<rect x="1115" y="82" width="1" height="29" fill="#228B22"/>
<rect x="1114" y="84" width="3" height="13" fill="#228B22"/>
<rect x="1115" y="85" width="1" height="11" fill="#32CD32"/>
<rect x="1119" y="83" width="1" height="50" fill="#000"/>
<rect x="1118" y="85" width="3" height="1" fill="#000"/>
<rect x="1123" y="85" width="1" height="23" fill="#FF4500"/>
<rect x="1122" y="87" width="3" height="13" fill="#FF4500"/>
<rect x="1123" y="88" width="1" height="11" fill="#FF8C00"/>
<rect x="1127" y="95" width="1" height="13" fill="#FF4500"/>
<rect x="1126" y="100" width="3" height="5" fill="#FF4500"/>
<rect x="1127" y="101" width="1" height="3" fill="#FF8C00"/>
<rect x="1131" y="96" width="1" height="12" fill="#228B22"/>
<rect x="1130" y="98" width="3" height="8" fill="#228B22"/>
<rect x="1131" y="99" width="1" height="6" fill="#32CD32"/>
<rect x="1135" y="94" width="1" height="104" fill="#FF4500"/>
<rect x="1134" y="99" width="3" height="86" fill="#FF4500"/>
<rect x="1135" y="100" width="1" height="84" fill="#FF8C00"/>
<rect x="1139" y="144" width="1" height="42" fill="#228B22"/>
<rect x="1138" y="148" width="3" height="38" fill="#228B22"/>
<rect x="1139" y="149" width="1" height="36" fill="#32CD32"/>
<rect x="1143" y="122" width="1" height="37" fill="#228B22"/>
<rect x="1142" y="146" width="3" height="4" fill="#228B22"/>
<rect x="1143" y="147" width="1" height="2" fill="#32CD32"/>
<rect x="1147" y="140" width="1" height="25" fill="#FF4500"/>
<rect x="1146" y="144" width="3" height="18" fill="#FF4500"/>
<rect x="1147" y="145" width="1" height="16" fill="#FF8C00"/>
<rect x="1151" y="158" width="1" height="14" fill="#FF4500"/>
<rect x="1150" y="159" width="3" height="11" fill="#FF4500"/>
<rect x="1151" y="160" width="1" height="9" fill="#FF8C00"/>
<rect x="1155" y="154" width="1" height="19" fill="#228B22"/>
<rect x="1154" y="155" width="3" height="13" fill="#228B22"/>
<rect x="1155" y="156" width="1" height="11" fill="#32CD32"/>
<rect x="1159" y="121" width="1" height="51" fill="#228B22"/>
<rect x="1158" y="127" width="3" height="27" fill="#228B22"/>
<rect x="1159" y="128" width="1" height="25" fill="#32CD32"/>
<rect x="1163" y="117" width="1" height="33" fill="#228B22"/>
<rect x="1162" y="126" width="3" height="3" fill="#228B22"/>
<rect x="1163" y="127" width="1" height="1" fill="#32CD32"/>
<rect x="1167" y="98" width="1" height="39" fill="#228B22"/>
<rect x="1166" y="104" width="3" height="24" fill="#228B22"/>
<rect x="1167" y="105" width="1" height="22" fill="#32CD32"/>
<rect x="1171" y="77" width="1" height="33" fill="#228B22"/>
<rect x="1170" y="78" width="3" height="28" fill="#228B22"/>
<rect x="1171" y="79" width="1" height="26" fill="#32CD32"/>
<rect x="1175" y="61" width="1" height="21" fill="#228B22"/>
<rect x="1174" y="62" width="3" height="16" fill="#228B22"/>
<rect x="1175" y="63" width="1" height="14" fill="#32CD32"/>
<rect x="1179" y="55" width="1" height="18" fill="#228B22"/>
<rect x="1178" y="59" width="3" height="3" fill="#228B22"/>
<rect x="1179" y="60" width="1" height="1" fill="#32CD32"/>
<rect x="1183" y="57" width="1" height="20" fill="#FF4500"/>
<rect x="1182" y="60" width="3" height="13" fill="#FF4500"/>
<rect x="1183" y="61" width="1" height="11" fill="#FF8C00"/>
<rect x="1187" y="44" width="1" height="38" fill="#228B22"/>
<rect x="1186" y="56" width="3" height="18" fill="#228B22"/>
<rect x="1187" y="57" width="1" height="16" fill="#32CD32"/>
<rect x="1191" y="37" width="1" height="100" fill="#FF4500"/>
<rect x="1190" y="57" width="3" height="77" fill="#FF4500"/>
<rect x="1191" y="58" width="1" height="75" fill="#FF8C00"/>
<rect x="1195" y="128" width="1" height="22" fill="#FF4500"/>
<rect x="1194" y="134" width="3" height="3" fill="#FF4500"/>
<rect x="1195" y="135" width="1" height="1" fill="#FF8C00"/>
<rect x="1199" y="131" width="1" height="10" fill="#228B22"/>
<rect x="1198" y="131" width="3" height="7" fill="#228B22"/>
<rect x="1199" y="132" width="1" height="5" fill="#32CD32"/>
<rect x="1203" y="121" width="1" height="17" fill="#228B22"/>
<rect x="1202" y="125" width="3" height="8" fill="#228B22"/>
<rect x="1203" y="126" width="1" height="6" fill="#32CD32"/>
<rect x="1207" y="105" width="1" height="40" fill="#000"/>
<rect x="1206" y="126" width="3" height="1" fill="#000"/>
<rect x="1211" y="95" width="1" height="35" fill="#228B22"/>
<rect x="1210" y="114" width="3" height="12" fill="#228B22"/>
<rect x="1211" y="115" width="1" height="10" fill="#32CD32"/>
<rect x="1215" y="67" width="1" height="78" fill="#228B22"/>
<rect x="1214" y="92" width="3" height="20" fill="#228B22"/>
<rect x="1215" y="93" width="1" height="18" fill="#32CD32"/>
<rect x="1219" y="73" width="1" height="20" fill="#228B22"/>
<rect x="1218" y="82" width="3" height="9" fill="#228B22"/>
<rect x="1219" y="83" width="1" height="7" fill="#32CD32"/>
<rect x="1223" y="81" width="1" height="13" fill="#FF4500"/>
<rect x="1222" y="83" width="3" height="10" fill="#FF4500"/>
<rect x="1223" y="84" width="1" height="8" fill="#FF8C00"/>
<rect x="1227" y="87" width="1" height="13" fill="#228B22"/>
<rect x="1226" y="88" width="3" height="6" fill="#228B22"/>
<rect x="1227" y="89" width="1" height="4" fill="#32CD32"/>
<path fill="#3CB371" d="M3 361h1v1h-1zM4 360h1v1h-1zM5 359h1v1h-1zM6 358h1v1h-1zM7 357h3v1h-3zM10 356h12v1h-12zM22 355h8v1h-8zM30 354h4v1h-4zM34 353h11v1h-11zM45 354h5v1h-5zM50 353h8v1h-8zM58 352h2v1h-2zM60 353h1v2h-1zM61 355h1v1h-1zM62 356h1v2h-1zM63 358h1v1h-1zM64 359h1v2h-1zM65 361h1v1h-1zM66 362h1v2h-1zM67 364h1v1h-1zM68 365h1v1h-1zM69 366h1v2h-1zM70 368h1v1h-1zM71 369h1v1h-1zM72 370h1v2h-1zM73 372h1v2h-1zM74 374h1v2h-1zM75 376h1v2h-1zM76 378h1v2h-1zM77 380h1v1h-1zM78 381h1v2h-1zM79 383h1v1h-1zM80 384h1v2h-1zM81 386h1v1h-1zM82 387h1v2h-1zM83 389h1v2h-1zM84 391h1v2h-1zM85 393h1v2h-1zM86 395h1v2h-1zM87 397h1v2h-1zM88 399h1v2h-1zM89 401h1v2h-1zM90 403h1v2h-1zM91 405h1v1h-1zM92 406h1v1h-1zM93 407h1v1h-1zM94 408h1v1h-1zM95 409h6v1h-6zM101 408h2v1h-2zM103 407h1v1h-1zM104 408h2v1h-2zM106 409h3v1h-3zM109 410h8v1h-8zM117 411h3v1h-3zM120 412h2v1h-2zM122 413h2v1h-2zM124 414h1v1h-1zM125 415h1v1h-1zM126 416h1v1h-1zM127 417h1v1h-1zM128 418h1v1h-1zM129 419h1v1h-1zM130 420h1v1h-1zM131 421h1v1h-1zM132 422h1v1h-1zM133 423h1v1h-1zM134 424h1v1h-1zM135 425h1v1h-1zM136 426h2v1h-2zM138 427h2v1h-2zM140 428h1v1h-1zM141 429h1v2h-1zM142 431h1v1h-1zM143 432h1v1h-1zM144 433h1v2h-1zM145 435h1v1h-1zM146 436h1v2h-1zM147 438h1v2h-1zM148 440h1v2h-1zM149 442h1v2h-1zM150 444h1v2h-1zM151 446h1v3h-1zM152 449h1v2h-1zM153 451h1v2h-1zM154 453h1v2h-1zM155 455h1v2h-1zM156 457h1v1h-1zM157 458h1v2h-1zM158 460h1v1h-1zM159 461h3v1h-3zM162 460h8v1h-8zM170 459h3v1h-3zM173 458h2v1h-2zM175 457h1v1h-1zM176 456h2v1h-2zM178 455h1v1h-1zM179 454h2v1h-2zM181 453h2v1h-2zM183 452h2v1h-2zM185 451h2v1h-2zM187 450h3v1h-3zM190 449h10v1h-10zM200 448h2v1h-2zM202 447h1v1h-1zM203 446h3v1h-3zM206 445h2v1h-2zM208 446h2v1h-2zM210 447h2v1h-2zM212 448h2v1h-2zM214 449h2v1h-2zM216 450h2v1h-2zM218 451h2v1h-2zM220 452h1v1h-1zM221 453h2v1h-2zM223 454h1v1h-1zM224 455h2v1h-2zM226 456h2v1h-2zM228 457h2v1h-2zM230 458h2v1h-2zM232 459h1v2h-1zM233 461h1v1h-1zM234 462h1v2h-1zM235 464h1v1h-1zM236 465h1v1h-1zM237 466h1v2h-1zM238 468h1v1h-1zM239 469h1v1h-1zM240 470h1v2h-1zM241 472h1v1h-1zM242 473h1v2h-1zM243 475h1v1h-1zM244 476h1v2h-1zM245 478h1v2h-1zM246 480h1v2h-1zM247 482h1v1h-1zM248 483h1v2h-1zM249 485h1v2h-1zM250 487h1v2h-1zM251 489h3v1h-3zM254 488h18v1h-18zM271 486h1v2h-1zM272 480h1v6h-1zM273 474h1v6h-1zM274 468h1v6h-1zM275 462h1v6h-1zM276 456h1v6h-1zM277 450h1v6h-1zM278 444h1v6h-1zM279 438h1v6h-1zM280 433h1v5h-1zM281 429h1v4h-1zM282 424h1v5h-1zM283 419h1v5h-1zM284 415h1v4h-1zM285 410h1v5h-1zM286 406h1v4h-1zM287 401h1v5h-1zM288 396h1v5h-1zM289 392h1v4h-1zM290 387h1v5h-1zM291 382h1v5h-1zM292 376h1v6h-1zM293 370h1v6h-1zM294 364h1v6h-1zM295 358h1v6h-1zM296 351h1v7h-1zM297 344h1v7h-1zM298 337h1v7h-1zM299 331h1v6h-1zM300 326h1v5h-1zM301 320h1v6h-1zM302 315h1v5h-1zM303 311h1v4h-1zM304 307h1v4h-1zM305 303h1v4h-1zM306 299h1v4h-1zM307 295h1v4h-1zM308 291h1v4h-1zM309 287h1v4h-1zM310 283h1v4h-1zM311 280h1v3h-1zM312 278h1v2h-1zM313 276h1v2h-1zM314 274h1v2h-1zM315 272h1v2h-1zM316 270h1v2h-1zM317 269h1v1h-1zM318 267h1v2h-1zM319 266h1v1h-1zM320 265h2v1h-2zM322 264h1v1h-1zM323 263h9v1h-9zM332 264h1v1h-1zM333 265h1v2h-1zM334 267h1v1h-1zM335 268h1v1h-1zM336 269h1v2h-1zM337 271h1v2h-1zM338 273h1v2h-1zM339 275h1v3h-1zM340 278h1v3h-1zM341 281h1v3h-1zM342 284h1v3h-1zM343 287h1v3h-1zM344 290h1v4h-1zM345 294h1v4h-1zM346 298h1v4h-1zM347 302h1v5h-1zM348 307h1v5h-1zM349 312h1v5h-1zM350 317h1v5h-1zM351 322h1v3h-1zM352 325h1v1h-1zM353 326h1v1h-1zM354 327h1v1h-1zM355 328h14v1h-14zM369 327h2v1h-2zM371 326h1v1h-1zM372 327h1v1h-1zM373 328h1v1h-1zM374 329h1v1h-1zM375 330h1v2h-1zM376 332h1v3h-1zM377 335h1v4h-1zM378 339h1v3h-1zM379 342h1v2h-1zM380 344h1v2h-1zM381 346h1v1h-1zM382 347h1v2h-1zM383 349h1v1h-1zM384 350h1v2h-1zM385 352h1v2h-1zM386 354h1v2h-1zM387 356h1v2h-1zM388 358h1v2h-1zM389 360h1v3h-1zM390 363h1v2h-1zM391 365h1v2h-1zM392 367h1v2h-1zM393 369h1v1h-1zM394 370h1v2h-1zM395 372h2v1h-2zM397 373h4v1h-4zM401 374h4v1h-4zM405 375h4v1h-4zM409 376h4v1h-4zM413 377h13v1h-13zM426 376h3v1h-3zM429 375h2v1h-2zM431 374h2v1h-2zM433 373h2v1h-2zM435 372h3v1h-3zM438 371h2v1h-2zM440 370h2v1h-2zM442 369h1v1h-1zM443 367h1v2h-1zM444 363h1v4h-1zM445 360h1v3h-1zM446 356h1v4h-1zM447 353h1v3h-1zM448 349h1v4h-1zM449 345h1v4h-1zM450 341h1v4h-1zM451 337h1v4h-1zM452 333h1v4h-1zM453 329h1v4h-1zM454 325h1v4h-1zM455 321h1v4h-1zM456 318h1v3h-1zM457 315h1v3h-1zM458 312h1v3h-1zM459 309h1v3h-1zM460 305h1v4h-1zM461 301h1v4h-1zM462 297h1v4h-1zM463 293h1v4h-1zM464 288h1v5h-1zM465 284h1v4h-1zM466 279h1v5h-1zM467 275h1v4h-1zM468 271h1v4h-1zM469 268h1v3h-1zM470 264h1v4h-1zM471 262h1v2h-1zM472 260h1v2h-1zM473 258h1v2h-1zM474 256h1v2h-1zM475 254h1v2h-1zM476 252h1v2h-1zM477 251h1v1h-1zM478 249h1v2h-1zM479 248h1v1h-1zM480 247h1v1h-1zM481 245h1v2h-1zM482 244h1v1h-1zM483 243h1v1h-1zM484 242h1v1h-1zM485 241h1v1h-1zM486 240h1v1h-1zM487 239h2v1h-2zM489 240h3v1h-3zM492 241h2v1h-2zM494 242h2v1h-2zM496 243h2v1h-2zM498 244h2v1h-2zM500 245h2v1h-2zM502 246h2v1h-2zM504 247h2v1h-2zM506 248h2v1h-2zM508 249h2v1h-2zM510 250h2v1h-2zM512 251h1v1h-1zM513 252h2v1h-2zM515 253h1v1h-1zM516 254h1v1h-1zM517 255h1v1h-1zM518 256h1v1h-1zM519 257h5v1h-5zM524 256h1v1h-1zM525 254h1v2h-1zM526 253h1v1h-1zM527 252h1v1h-1zM528 250h1v2h-1zM529 248h1v2h-1zM530 246h1v2h-1zM531 245h1v1h-1zM532 243h1v2h-1zM533 242h1v1h-1zM534 240h1v2h-1zM535 239h1v1h-1zM536 237h1v2h-1zM537 236h1v1h-1zM538 234h1v2h-1zM539 232h1v2h-1zM540 228h1v4h-1zM541 225h1v3h-1zM542 221h1v4h-1zM543 218h1v3h-1zM544 214h1v4h-1zM545 210h1v4h-1zM546 206h1v4h-1zM547 203h1v3h-1zM548 200h1v3h-1zM549 197h1v3h-1zM550 194h1v3h-1zM551 191h1v3h-1zM552 189h1v2h-1zM553 186h1v3h-1zM554 184h1v2h-1zM555 181h1v3h-1zM556 178h1v3h-1zM557 176h1v2h-1zM558 173h1v3h-1zM559 170h1v3h-1zM560 167h1v3h-1zM561 165h1v2h-1zM562 162h1v3h-1zM563 158h1v4h-1zM564 154h1v4h-1zM565 150h1v4h-1zM566 146h1v4h-1zM567 142h1v4h-1zM568 138h1v4h-1zM569 135h1v3h-1zM570 131h1v4h-1zM571 128h1v3h-1zM572 125h1v3h-1zM573 123h1v2h-1zM574 120h1v3h-1zM575 118h1v2h-1zM576 116h1v2h-1zM577 114h1v2h-1zM578 112h1v2h-1zM579 110h1v2h-1zM580 109h1v1h-1zM581 108h1v1h-1zM582 107h1v1h-1zM583 106h1v1h-1zM584 105h1v1h-1zM585 103h1v2h-1zM586 102h1v1h-1zM587 101h1v1h-1zM588 99h1v2h-1zM589 98h1v1h-1zM590 96h1v2h-1zM591 95h1v1h-1zM592 94h1v1h-1zM593 92h1v2h-1zM594 91h1v1h-1zM595 90h1v1h-1zM596 89h1v1h-1zM597 88h1v1h-1zM598 87h1v1h-1zM599 86h1v1h-1zM600 85h2v1h-2zM602 84h1v1h-1zM603 83h2v1h-2zM605 82h2v1h-2zM607 81h5v1h-5zM612 82h1v2h-1zM613 84h1v2h-1zM614 86h1v2h-1zM615 88h1v1h-1zM616 89h1v2h-1zM617 91h1v2h-1zM618 93h1v2h-1zM619 95h1v1h-1zM620 96h2v1h-2zM622 97h3v1h-3zM625 98h3v1h-3zM628 99h2v1h-2zM630 100h2v1h-2zM632 101h1v1h-1zM633 102h1v1h-1zM634 103h1v1h-1zM635 104h1v1h-1zM636 102h1v2h-1zM637 100h1v2h-1zM638 98h1v2h-1zM639 95h1v3h-1zM640 92h1v3h-1zM641 89h1v3h-1zM642 86h1v3h-1zM643 83h1v3h-1zM644 80h1v3h-1zM645 76h1v4h-1zM646 73h1v3h-1zM647 71h1v2h-1zM648 69h1v2h-1zM649 67h1v2h-1zM650 65h1v2h-1zM651 63h1v2h-1zM652 61h1v2h-1zM653 60h1v1h-1zM654 58h1v2h-1zM655 57h2v1h-2zM657 56h2v1h-2zM659 55h2v1h-2zM661 54h2v1h-2zM663 53h2v1h-2zM665 52h2v1h-2zM667 51h3v1h-3zM670 50h3v1h-3zM673 49h2v1h-2zM675 48h3v1h-3zM678 47h4v1h-4zM682 46h3v1h-3zM685 45h2v1h-2zM687 44h1v1h-1zM688 43h2v1h-2zM690 42h1v1h-1zM691 41h5v1h-5zM696 42h2v1h-2zM698 43h2v1h-2zM700 44h1v1h-1zM701 45h2v1h-2zM703 46h1v1h-1zM704 45h2v1h-2zM706 44h1v1h-1zM707 43h3v1h-3zM710 42h6v1h-6zM716 43h2v1h-2zM718 44h2v1h-2zM720 45h1v1h-1zM721 46h1v1h-1zM722 47h1v1h-1zM723 48h3v1h-3zM726 47h4v1h-4zM730 46h3v1h-3zM733 47h5v1h-5zM738 46h2v1h-2zM740 47h2v1h-2zM742 48h2v1h-2zM744 49h2v1h-2zM746 50h2v1h-2zM748 51h1v1h-1zM749 52h2v1h-2zM751 53h1v1h-1zM752 54h1v1h-1zM753 55h1v1h-1zM754 56h1v1h-1zM755 57h1v1h-1zM756 58h1v1h-1zM757 59h1v1h-1zM758 60h1v1h-1zM759 61h1v1h-1zM760 62h1v1h-1zM761 63h1v1h-1zM762 64h1v1h-1zM763 65h1v2h-1zM764 67h1v2h-1zM765 69h1v2h-1zM766 71h1v2h-1zM767 73h1v3h-1zM768 76h1v4h-1zM769 80h1v3h-1zM770 83h1v4h-1zM771 87h1v3h-1zM772 90h1v4h-1zM773 94h1v4h-1zM774 98h1v4h-1zM775 102h1v5h-1zM776 107h1v5h-1zM777 112h1v4h-1zM778 116h1v5h-1zM779 121h1v4h-1zM780 125h1v2h-1zM781 127h1v3h-1zM782 130h1v2h-1zM783 132h1v2h-1zM784 134h1v1h-1zM785 135h1v2h-1zM786 137h1v1h-1zM787 138h1v1h-1zM788 139h1v2h-1zM789 141h1v1h-1zM790 142h1v2h-1zM791 144h1v1h-1zM792 145h1v2h-1zM793 147h1v2h-1zM794 149h1v2h-1zM795 151h1v3h-1zM796 154h1v3h-1zM797 157h1v3h-1zM798 160h1v3h-1zM799 163h1v4h-1zM800 167h1v6h-1zM801 173h1v5h-1zM802 178h1v6h-1zM803 184h1v3h-1zM804 187h1v1h-1zM805 188h2v1h-2zM807 189h1v1h-1zM808 190h1v1h-1zM809 191h2v1h-2zM811 192h1v1h-1zM812 193h1v1h-1zM813 194h2v1h-2zM815 195h1v1h-1zM816 196h1v1h-1zM817 197h1v1h-1zM818 198h1v1h-1zM819 199h1v1h-1zM820 200h1v1h-1zM821 201h2v1h-2zM823 202h1v1h-1zM824 203h1v1h-1zM825 204h2v1h-2zM827 205h2v1h-2zM829 204h2v1h-2zM831 203h1v1h-1zM832 202h2v1h-2zM834 201h1v1h-1zM835 200h1v1h-1zM836 199h1v1h-1zM837 198h1v1h-1zM838 197h1v1h-1zM839 196h1v1h-1zM840 195h1v1h-1zM841 193h1v2h-1zM842 192h1v1h-1zM843 191h1v1h-1zM844 189h1v2h-1zM845 187h1v2h-1zM846 185h1v2h-1zM847 183h1v2h-1zM848 181h1v2h-1zM849 180h1v1h-1zM850 178h1v2h-1zM851 177h1v1h-1zM852 175h1v2h-1zM853 173h1v2h-1zM854 171h1v2h-1zM855 169h1v2h-1zM856 167h1v2h-1zM857 165h1v2h-1zM858 163h1v2h-1zM859 162h1v1h-1zM860 160h1v2h-1zM861 159h1v1h-1zM862 157h1v2h-1zM863 156h1v1h-1zM864 154h1v2h-1zM865 152h1v2h-1zM866 150h1v2h-1zM867 148h1v2h-1zM868 146h1v2h-1zM869 144h1v2h-1zM870 142h1v2h-1zM871 140h1v2h-1zM872 138h1v2h-1zM873 137h1v1h-1zM874 135h1v2h-1zM875 134h6v1h-6zM881 135h4v1h-4zM885 136h3v1h-3zM888 137h1v1h-1zM889 138h2v1h-2zM891 139h5v1h-5zM896 138h2v1h-2zM898 137h1v1h-1zM899 136h5v1h-5zM904 135h2v1h-2zM906 134h1v1h-1zM907 133h2v1h-2zM909 132h2v1h-2zM911 131h2v1h-2zM913 130h2v1h-2zM915 129h6v1h-6zM921 128h2v1h-2zM923 127h1v1h-1zM924 128h2v1h-2zM926 129h3v1h-3zM929 130h3v1h-3zM932 131h1v1h-1zM933 132h2v1h-2zM935 133h1v1h-1zM936 134h1v2h-1zM937 136h1v2h-1zM938 138h1v2h-1zM939 140h1v2h-1zM940 142h1v2h-1zM941 144h1v2h-1zM942 146h1v2h-1zM943 148h1v3h-1zM944 151h1v3h-1zM945 154h1v2h-1zM946 156h1v3h-1zM947 159h1v3h-1zM948 162h1v4h-1zM949 166h1v4h-1zM950 170h1v4h-1zM951 174h1v3h-1zM952 177h1v4h-1zM953 181h1v4h-1zM954 185h1v4h-1zM955 189h1v3h-1zM956 192h1v2h-1zM957 194h1v2h-1zM958 196h1v2h-1zM959 198h1v3h-1zM960 201h1v2h-1zM961 203h1v3h-1zM962 206h1v2h-1zM963 208h1v3h-1zM964 211h1v3h-1zM965 214h1v3h-1zM966 217h1v3h-1zM967 220h1v3h-1zM968 223h1v3h-1zM969 226h1v2h-1zM970 228h1v3h-1zM971 231h1v1h-1zM971 232h5v1h-5zM975 231h1v1h-1zM976 229h1v2h-1zM977 226h1v3h-1zM978 224h1v2h-1zM979 221h1v3h-1zM980 218h1v3h-1zM981 215h1v3h-1zM982 212h1v3h-1zM983 209h1v3h-1zM984 206h1v3h-1zM985 204h1v2h-1zM986 201h1v3h-1zM987 198h1v3h-1zM988 194h1v4h-1zM989 191h1v3h-1zM990 187h1v4h-1zM991 185h1v2h-1zM992 183h1v2h-1zM993 181h1v2h-1zM994 179h1v2h-1zM995 177h1v2h-1zM996 175h1v2h-1zM997 174h1v1h-1zM998 172h1v2h-1zM999 171h1v1h-1zM1000 170h1v1h-1zM1001 168h1v2h-1zM1002 167h1v1h-1zM1003 166h1v1h-1zM1004 165h1v1h-1zM1005 163h1v2h-1zM1006 162h1v1h-1zM1007 160h1v2h-1zM1008 158h1v2h-1zM1009 155h1v3h-1zM1010 153h1v2h-1zM1011 150h1v3h-1zM1012 148h1v2h-1zM1013 146h1v2h-1zM1014 144h1v2h-1zM1015 141h1v3h-1zM1016 138h1v3h-1zM1017 135h1v3h-1zM1018 132h1v3h-1zM1019 129h1v3h-1zM1020 126h1v3h-1zM1021 124h1v2h-1zM1022 121h1v3h-1zM1023 118h1v3h-1zM1024 116h1v2h-1zM1025 114h1v2h-1zM1026 112h1v2h-1zM1027 110h1v2h-1zM1028 108h1v2h-1zM1029 107h1v1h-1zM1030 105h1v2h-1zM1031 104h1v1h-1zM1032 103h1v1h-1zM1033 102h1v1h-1zM1034 101h1v1h-1zM1035 100h1v1h-1zM1036 99h2v1h-2zM1038 98h1v1h-1zM1039 97h2v1h-2zM1041 98h3v1h-3zM1044 99h1v2h-1zM1045 101h1v1h-1zM1046 102h1v2h-1zM1047 104h1v1h-1zM1048 105h1v2h-1zM1049 107h1v2h-1zM1050 109h1v2h-1zM1051 111h1v1h-1zM1052 112h1v1h-1zM1053 113h2v1h-2zM1055 114h2v1h-2zM1057 115h4v1h-4zM1061 114h2v1h-2zM1063 113h17v1h-17zM1080 114h1v1h-1zM1081 115h1v1h-1zM1082 116h1v1h-1zM1083 117h1v1h-1zM1084 116h1v1h-1zM1085 114h1v2h-1zM1086 113h1v1h-1zM1087 112h3v1h-3zM1090 111h2v1h-2zM1092 110h1v1h-1zM1093 108h1v2h-1zM1094 107h1v1h-1zM1095 106h1v1h-1zM1096 104h1v2h-1zM1097 102h1v2h-1zM1098 100h1v2h-1zM1099 99h1v1h-1zM1100 97h1v2h-1zM1101 96h1v1h-1zM1102 94h1v2h-1zM1103 93h1v1h-1zM1104 91h1v2h-1zM1105 90h1v1h-1zM1106 88h1v2h-1zM1107 87h1v1h-1zM1108 85h1v2h-1zM1109 84h1v1h-1zM1110 82h1v2h-1zM1111 81h1v1h-1zM1112 79h1v2h-1zM1113 78h1v1h-1zM1114 76h1v2h-1zM1115 75h1v1h-1zM1116 74h1v1h-1zM1117 72h1v2h-1zM1118 71h1v1h-1zM1119 70h1v1h-1zM1120 69h2v1h-2zM1122 68h1v1h-1zM1123 67h1v1h-1zM1124 66h2v1h-2zM1126 65h1v1h-1zM1127 64h1v1h-1zM1128 63h2v1h-2zM1130 62h1v1h-1zM1131 61h2v1h-2zM1133 60h2v1h-2zM1135 59h11v1h-11zM1146 58h4v1h-4zM1150 57h3v1h-3zM1153 58h3v1h-3zM1156 59h1v1h-1zM1157 60h1v1h-1zM1158 61h1v1h-1zM1159 62h2v1h-2zM1161 63h5v1h-5zM1166 62h2v1h-2zM1168 61h1v1h-1zM1169 59h1v2h-1zM1170 58h1v1h-1zM1171 57h1v1h-1zM1172 55h1v2h-1zM1173 53h1v2h-1zM1174 51h1v2h-1zM1175 50h1v1h-1zM1176 48h1v2h-1zM1177 47h1v1h-1zM1178 45h1v2h-1zM1179 44h1v1h-1zM1180 43h1v1h-1zM1181 41h1v2h-1zM1182 40h1v1h-1zM1183 39h1v1h-1zM1184 38h1v1h-1zM1185 37h1v1h-1zM1186 36h1v1h-1zM1187 35h2v1h-2zM1189 36h3v1h-3zM1192 37h1v1h-1zM1193 38h1v1h-1zM1194 39h1v1h-1zM1195 40h1v1h-1zM1196 41h2v1h-2zM1198 42h2v1h-2zM1200 43h2v1h-2zM1202 44h2v1h-2zM1204 45h2v1h-2zM1206 46h2v1h-2zM1208 47h2v1h-2zM1210 48h4v1h-4zM1214 47h2v1h-2zM1216 46h2v1h-2zM1218 45h1v1h-1zM1219 44h3v1h-3zM1222 43h6v1h-6z"/>
<path fill="#3CB371" d="M3 410h1v1h-1zM4 409h2v1h-2zM6 408h1v1h-1zM7 407h2v1h-2zM9 406h2v1h-2zM11 405h10v1h-10zM21 406h8v1h-8zM29 407h4v1h-4zM33 408h16v1h-16zM49 409h4v1h-4zM53 410h4v1h-4zM57 411h3v1h-3zM60 412h1v1h-1zM61 413h2v1h-2zM63 414h1v1h-1zM64 415h1v1h-1zM65 416h2v1h-2zM67 417h1v1h-1zM68 418h1v1h-1zM69 419h2v1h-2zM71 420h1v1h-1zM72 421h1v1h-1zM73 422h2v1h-2zM75 423h1v1h-1zM76 424h1v1h-1zM77 425h2v1h-2zM79 426h1v1h-1zM80 427h1v1h-1zM81 428h1v2h-1zM82 430h1v1h-1zM83 431h1v1h-1zM84 432h1v1h-1zM85 433h1v2h-1zM86 435h1v1h-1zM87 436h1v1h-1zM88 437h1v1h-1zM89 438h1v1h-1zM90 439h1v1h-1zM91 440h1v1h-1zM92 441h1v1h-1zM93 442h1v2h-1zM94 444h1v1h-1zM95 445h1v1h-1zM96 446h1v1h-1zM97 447h1v1h-1zM98 448h1v1h-1zM99 449h1v1h-1zM100 450h2v1h-2zM102 451h2v1h-2zM104 452h1v1h-1zM105 453h2v1h-2zM107 454h1v1h-1zM108 455h2v1h-2zM110 456h2v1h-2zM112 457h2v1h-2zM114 458h2v1h-2zM116 459h1v1h-1zM117 460h2v1h-2zM119 461h1v1h-1zM120 462h2v1h-2zM122 463h2v1h-2zM124 464h1v1h-1zM125 465h2v1h-2zM127 466h1v1h-1zM128 467h1v1h-1zM129 468h2v1h-2zM131 469h2v1h-2zM133 470h3v1h-3zM136 471h2v1h-2zM138 472h2v1h-2zM140 473h2v1h-2zM142 474h2v1h-2zM144 475h2v1h-2zM146 476h2v1h-2zM148 477h2v1h-2zM150 478h2v1h-2zM152 479h2v1h-2zM154 480h3v1h-3zM157 481h5v1h-5zM162 480h7v1h-7zM169 481h4v1h-4zM173 482h4v1h-4zM177 483h4v1h-4zM181 484h3v1h-3zM184 485h2v1h-2zM186 486h2v1h-2zM188 487h2v1h-2zM190 488h2v1h-2zM192 489h2v1h-2zM194 490h6v1h-6zM200 491h2v1h-2zM202 492h2v1h-2zM204 493h2v1h-2zM206 494h2v1h-2zM208 495h2v1h-2zM210 496h2v1h-2zM212 497h2v1h-2zM214 498h2v1h-2zM216 499h2v1h-2zM218 500h2v1h-2zM220 501h2v1h-2zM222 502h3v1h-3zM225 503h3v1h-3zM228 504h2v1h-2zM230 505h2v1h-2zM232 506h2v1h-2zM234 507h2v1h-2zM236 508h2v1h-2zM238 509h2v1h-2zM240 510h2v1h-2zM242 511h2v1h-2zM244 512h1v1h-1zM245 513h1v1h-1zM246 514h1v1h-1zM247 515h1v1h-1zM248 516h1v1h-1zM249 517h1v1h-1zM250 518h1v1h-1zM251 519h1v1h-1zM252 520h1v1h-1zM253 521h2v1h-2zM255 522h1v1h-1zM256 523h2v1h-2zM258 524h2v1h-2zM260 525h2v1h-2zM262 526h2v1h-2zM264 527h2v1h-2zM266 528h6v1h-6zM272 527h2v1h-2zM274 526h1v1h-1zM275 525h1v1h-1zM276 523h1v2h-1zM277 522h1v1h-1zM278 520h1v2h-1zM279 519h1v1h-1zM280 517h1v2h-1zM281 516h1v1h-1zM282 514h1v2h-1zM283 513h1v1h-1zM284 511h1v2h-1zM285 509h1v2h-1zM286 507h1v2h-1zM287 506h1v1h-1zM288 504h1v2h-1zM289 502h1v2h-1zM290 500h1v2h-1zM291 498h1v2h-1zM292 496h1v2h-1zM293 494h1v2h-1zM294 492h1v2h-1zM295 489h1v3h-1zM296 487h1v2h-1zM297 485h1v2h-1zM298 483h1v2h-1zM299 480h1v3h-1zM300 478h1v2h-1zM301 476h1v2h-1zM302 474h1v2h-1zM303 472h1v2h-1zM304 470h1v2h-1zM305 468h1v2h-1zM306 466h1v2h-1zM307 464h1v2h-1zM308 462h1v2h-1zM309 460h1v2h-1zM310 458h1v2h-1zM311 456h1v2h-1zM312 454h1v2h-1zM313 452h1v2h-1zM314 450h1v2h-1zM315 449h1v1h-1zM316 447h1v2h-1zM317 446h1v1h-1zM318 444h1v2h-1zM319 443h1v1h-1zM320 441h1v2h-1zM321 440h1v1h-1zM322 438h1v2h-1zM323 437h1v1h-1zM324 435h1v2h-1zM325 433h1v2h-1zM326 431h1v2h-1zM327 429h1v2h-1zM328 427h1v2h-1zM329 425h1v2h-1zM330 423h1v2h-1zM331 421h1v2h-1zM332 419h1v2h-1zM333 417h1v2h-1zM334 415h1v2h-1zM335 413h1v2h-1zM336 411h1v2h-1zM337 409h1v2h-1zM338 407h1v2h-1zM339 405h1v2h-1zM340 403h1v2h-1zM341 401h1v2h-1zM342 399h1v2h-1zM343 397h1v2h-1zM344 395h1v2h-1zM345 393h1v2h-1zM346 391h1v2h-1zM347 389h1v2h-1zM348 387h1v2h-1zM349 386h1v1h-1zM350 384h1v2h-1zM351 383h2v1h-2zM353 382h2v1h-2zM355 381h3v1h-3zM358 380h3v1h-3zM361 379h2v1h-2zM363 378h3v1h-3zM366 377h2v1h-2zM368 378h2v1h-2zM370 379h2v1h-2zM372 380h1v1h-1zM373 381h2v1h-2zM375 382h1v1h-1zM376 383h1v1h-1zM377 384h1v1h-1zM378 385h1v1h-1zM379 386h1v1h-1zM380 387h1v1h-1zM381 388h2v1h-2zM383 389h1v1h-1zM384 390h2v1h-2zM386 391h2v1h-2zM388 392h1v1h-1zM389 393h2v1h-2zM391 394h1v1h-1zM392 395h2v1h-2zM394 396h11v1h-11zM405 397h4v1h-4zM409 398h9v1h-9zM418 397h8v1h-8zM426 396h8v1h-8zM434 395h7v1h-7zM441 394h2v1h-2zM443 393h2v1h-2zM445 392h2v1h-2zM447 391h1v1h-1zM448 390h1v1h-1zM449 388h1v2h-1zM450 387h1v1h-1zM451 386h1v1h-1zM452 385h1v1h-1zM453 383h1v2h-1zM454 382h1v1h-1zM455 381h1v1h-1zM456 380h1v1h-1zM457 379h1v1h-1zM458 378h1v1h-1zM459 377h1v1h-1zM460 375h1v2h-1zM461 374h1v1h-1zM462 372h1v2h-1zM463 371h1v1h-1zM464 369h1v2h-1zM465 368h1v1h-1zM466 366h1v2h-1zM467 365h1v1h-1zM468 363h1v2h-1zM469 361h1v2h-1zM470 359h1v2h-1zM471 358h1v1h-1zM472 356h1v2h-1zM473 355h1v1h-1zM474 353h1v2h-1zM475 352h1v1h-1zM476 351h1v1h-1zM477 349h1v2h-1zM478 348h1v1h-1zM479 347h1v1h-1zM480 345h1v2h-1zM481 344h1v1h-1zM482 342h1v2h-1zM483 341h1v1h-1zM484 339h1v2h-1zM485 338h1v1h-1zM486 336h1v2h-1zM487 335h2v1h-2zM489 334h2v1h-2zM491 333h1v1h-1zM492 332h1v1h-1zM493 331h1v1h-1zM494 330h1v1h-1zM495 329h1v1h-1zM496 328h1v1h-1zM497 327h1v1h-1zM498 326h1v1h-1zM499 325h1v1h-1zM500 324h2v1h-2zM502 323h1v1h-1zM503 322h1v1h-1zM504 321h2v1h-2zM506 320h1v1h-1zM507 319h1v1h-1zM508 318h2v1h-2zM510 317h1v1h-1zM511 316h1v1h-1zM512 315h2v1h-2zM514 314h1v1h-1zM515 313h1v1h-1zM516 312h1v1h-1zM517 311h1v1h-1zM518 310h1v1h-1zM519 309h1v1h-1zM520 308h1v1h-1zM521 306h1v2h-1zM522 305h1v1h-1zM523 304h1v1h-1zM524 303h1v1h-1zM525 302h1v1h-1zM526 301h1v1h-1zM527 300h2v1h-2zM529 299h2v1h-2zM531 298h1v1h-1zM532 297h1v1h-1zM533 296h1v1h-1zM534 295h1v1h-1zM535 294h1v1h-1zM536 293h2v1h-2zM538 292h1v1h-1zM539 291h2v1h-2zM541 290h2v1h-2zM543 289h1v1h-1zM544 288h1v1h-1zM545 287h1v1h-1zM546 286h1v1h-1zM547 285h1v1h-1zM548 284h1v1h-1zM549 283h1v1h-1zM550 282h1v1h-1zM551 281h1v1h-1zM552 280h1v1h-1zM553 278h1v2h-1zM554 277h1v1h-1zM555 276h1v1h-1zM556 275h1v1h-1zM557 274h1v1h-1zM558 273h1v1h-1zM559 272h1v1h-1zM560 270h1v2h-1zM561 269h1v1h-1zM562 267h1v2h-1zM563 266h1v1h-1zM564 264h1v2h-1zM565 263h1v1h-1zM566 261h1v2h-1zM567 259h1v2h-1zM568 257h1v2h-1zM569 255h1v2h-1zM570 253h1v2h-1zM571 250h1v3h-1zM572 248h1v2h-1zM573 246h1v2h-1zM574 244h1v2h-1zM575 241h1v3h-1zM576 239h1v2h-1zM577 236h1v3h-1zM578 234h1v2h-1zM579 231h1v3h-1zM580 229h1v2h-1zM581 226h1v3h-1zM582 224h1v2h-1zM583 221h1v3h-1zM584 219h1v2h-1zM585 216h1v3h-1zM586 214h1v2h-1zM587 211h1v3h-1zM588 209h1v2h-1zM589 206h1v3h-1zM590 204h1v2h-1zM591 201h1v3h-1zM592 199h1v2h-1zM593 197h1v2h-1zM594 195h1v2h-1zM595 193h1v2h-1zM596 191h1v2h-1zM597 189h1v2h-1zM598 187h1v2h-1zM599 185h1v2h-1zM600 183h1v2h-1zM601 181h1v2h-1zM602 179h1v2h-1zM603 177h1v2h-1zM604 175h1v2h-1zM605 174h1v1h-1zM606 172h1v2h-1zM607 171h1v1h-1zM608 170h1v1h-1zM609 168h1v2h-1zM610 167h1v1h-1zM611 166h1v1h-1zM612 165h1v1h-1zM613 163h1v2h-1zM614 162h1v1h-1zM615 161h1v1h-1zM616 160h1v1h-1zM617 159h1v1h-1zM618 158h1v1h-1zM619 157h1v1h-1zM620 156h2v1h-2zM622 155h1v1h-1zM623 154h1v1h-1zM624 153h2v1h-2zM626 152h1v1h-1zM627 151h1v1h-1zM628 150h2v1h-2zM630 149h1v1h-1zM631 148h1v1h-1zM632 147h2v1h-2zM634 146h1v1h-1zM635 145h1v1h-1zM636 144h1v1h-1zM637 142h1v2h-1zM638 141h1v1h-1zM639 140h1v1h-1zM640 138h1v2h-1zM641 137h1v1h-1zM642 135h1v2h-1zM643 134h1v1h-1zM644 133h1v1h-1zM645 131h1v2h-1zM646 130h1v1h-1zM647 129h1v1h-1zM648 128h2v1h-2zM650 127h1v1h-1zM651 126h1v1h-1zM652 125h1v1h-1zM653 124h1v1h-1zM654 123h1v1h-1zM655 122h1v1h-1zM656 121h2v1h-2zM658 120h1v1h-1zM659 119h1v1h-1zM660 118h2v1h-2zM662 117h1v1h-1zM663 116h3v1h-3zM666 115h4v1h-4zM670 114h4v1h-4zM674 113h4v1h-4zM678 112h4v1h-4zM682 111h3v1h-3zM685 110h2v1h-2zM687 109h3v1h-3zM690 108h2v1h-2zM692 106h1v2h-1zM693 105h1v1h-1zM694 103h1v2h-1zM695 102h1v1h-1zM696 101h2v1h-2zM698 100h1v1h-1zM699 99h3v1h-3zM702 98h3v1h-3zM705 99h4v1h-4zM709 100h7v1h-7zM716 101h2v1h-2zM718 102h2v1h-2zM720 103h1v1h-1zM721 104h1v1h-1zM722 105h1v1h-1zM723 106h1v1h-1zM724 107h1v2h-1zM725 109h1v1h-1zM726 110h1v2h-1zM727 112h1v1h-1zM728 113h1v2h-1zM729 115h1v1h-1zM730 116h1v2h-1zM731 118h1v1h-1zM732 119h1v2h-1zM733 121h1v2h-1zM734 123h1v2h-1zM735 125h1v1h-1zM736 126h1v1h-1zM737 127h1v2h-1zM738 129h1v1h-1zM739 130h1v1h-1zM740 131h1v1h-1zM741 132h1v2h-1zM742 134h1v1h-1zM743 135h1v1h-1zM744 136h1v1h-1zM745 137h1v2h-1zM746 139h1v1h-1zM747 140h1v1h-1zM748 141h1v2h-1zM749 143h1v1h-1zM750 144h1v2h-1zM751 146h1v1h-1zM752 147h1v2h-1zM753 149h1v1h-1zM754 150h1v2h-1zM755 152h1v1h-1zM756 153h1v2h-1zM757 155h1v2h-1zM758 157h1v2h-1zM759 159h1v1h-1zM760 160h1v2h-1zM761 162h1v2h-1zM762 164h1v2h-1zM763 166h1v1h-1zM764 167h1v2h-1zM765 169h1v2h-1zM766 171h1v2h-1zM767 173h1v1h-1zM768 174h1v2h-1zM769 176h1v2h-1zM770 178h1v2h-1zM771 180h1v2h-1zM772 182h1v2h-1zM773 184h1v2h-1zM774 186h1v2h-1zM775 188h1v1h-1zM776 189h1v1h-1zM777 190h1v2h-1zM778 192h1v1h-1zM779 193h1v1h-1zM780 194h1v1h-1zM781 195h1v2h-1zM782 197h1v1h-1zM783 198h1v1h-1zM784 199h1v1h-1zM785 200h2v1h-2zM787 201h1v1h-1zM788 202h1v1h-1zM789 203h2v1h-2zM791 204h1v1h-1zM792 205h1v1h-1zM793 206h1v2h-1zM794 208h1v1h-1zM795 209h1v1h-1zM796 210h1v1h-1zM797 211h1v2h-1zM798 213h1v1h-1zM799 214h1v1h-1zM800 215h1v1h-1zM801 216h1v1h-1zM802 217h1v1h-1zM803 218h1v1h-1zM804 219h1v1h-1zM805 220h2v1h-2zM807 221h1v1h-1zM808 222h2v1h-2zM810 223h2v1h-2zM812 224h2v1h-2zM814 225h2v1h-2zM816 226h2v1h-2zM818 227h3v1h-3zM821 228h4v1h-4zM825 229h4v1h-4zM829 230h4v1h-4zM833 229h2v1h-2zM835 228h3v1h-3zM838 227h2v1h-2zM840 226h2v1h-2zM842 225h1v1h-1zM843 224h1v1h-1zM844 223h1v1h-1zM845 222h1v1h-1zM846 221h1v1h-1zM847 220h2v1h-2zM849 219h2v1h-2zM851 218h1v1h-1zM852 217h2v1h-2zM854 216h1v1h-1zM855 215h2v1h-2zM857 214h2v1h-2zM859 213h1v1h-1zM860 212h2v1h-2zM862 211h1v1h-1zM863 210h1v1h-1zM864 209h2v1h-2zM866 208h1v1h-1zM867 207h1v1h-1zM868 206h2v1h-2zM870 205h1v1h-1zM871 204h1v1h-1zM872 203h2v1h-2zM874 202h1v1h-1zM875 201h2v1h-2zM877 200h2v1h-2zM879 199h2v1h-2zM881 198h2v1h-2zM883 197h3v1h-3zM886 196h2v1h-2zM888 195h2v1h-2zM890 194h1v1h-1zM891 193h6v1h-6zM897 194h4v1h-4zM901 195h4v1h-4zM905 196h3v1h-3zM908 197h2v1h-2zM910 198h2v1h-2zM912 199h1v1h-1zM913 200h2v1h-2zM915 201h1v1h-1zM916 202h1v1h-1zM917 203h2v1h-2zM919 204h1v1h-1zM920 205h1v1h-1zM921 206h2v1h-2zM923 207h1v1h-1zM924 208h1v1h-1zM925 209h1v1h-1zM926 210h1v1h-1zM927 211h1v1h-1zM928 212h1v1h-1zM929 213h1v1h-1zM930 214h1v1h-1zM931 215h1v1h-1zM932 216h1v1h-1zM933 217h1v2h-1zM934 219h1v1h-1zM935 220h1v1h-1zM936 221h1v1h-1zM937 222h1v2h-1zM938 224h1v1h-1zM939 225h1v1h-1zM940 226h1v1h-1zM941 227h1v1h-1zM942 228h1v1h-1zM943 229h1v1h-1zM944 230h1v1h-1zM945 231h1v1h-1zM946 232h1v1h-1zM947 233h1v2h-1zM948 235h1v2h-1zM949 237h1v2h-1zM950 239h1v2h-1zM951 241h1v2h-1zM952 243h1v2h-1zM953 245h1v1h-1zM954 246h1v2h-1zM955 248h1v1h-1zM956 249h1v1h-1zM957 250h1v1h-1zM958 251h1v1h-1zM959 252h1v1h-1zM960 253h1v1h-1zM961 254h1v1h-1zM962 255h1v1h-1zM963 256h1v1h-1zM964 257h1v1h-1zM965 258h1v1h-1zM966 259h1v1h-1zM967 260h1v1h-1zM968 261h1v1h-1zM969 262h2v1h-2zM971 263h6v1h-6zM977 262h2v1h-2zM979 261h2v1h-2zM981 260h2v1h-2zM983 259h1v1h-1zM984 258h1v1h-1zM985 257h1v1h-1zM986 256h1v1h-1zM987 255h1v1h-1zM988 254h1v1h-1zM989 253h1v1h-1zM990 252h1v1h-1zM991 251h1v1h-1zM992 250h2v1h-2zM994 249h1v1h-1zM995 248h1v1h-1zM996 247h2v1h-2zM998 246h1v1h-1zM999 245h1v1h-1zM1000 244h2v1h-2zM1002 243h1v1h-1zM1003 242h1v1h-1zM1004 241h2v1h-2zM1006 240h1v1h-1zM1007 239h1v1h-1zM1008 237h1v2h-1zM1009 236h1v1h-1zM1010 234h1v2h-1zM1011 233h1v1h-1zM1012 232h1v1h-1zM1013 230h1v2h-1zM1014 229h1v1h-1zM1015 228h1v1h-1zM1016 227h1v1h-1zM1017 225h1v2h-1zM1018 224h1v1h-1zM1019 223h1v1h-1zM1020 222h1v1h-1zM1021 220h1v2h-1zM1022 219h1v1h-1zM1023 218h1v1h-1zM1024 216h1v2h-1zM1025 214h1v2h-1zM1026 212h1v2h-1zM1027 210h1v2h-1zM1028 208h1v2h-1zM1029 206h1v2h-1zM1030 204h1v2h-1zM1031 203h1v1h-1zM1032 201h1v2h-1zM1033 199h1v2h-1zM1034 197h1v2h-1zM1035 196h1v1h-1zM1036 194h1v2h-1zM1037 192h1v2h-1zM1038 190h1v2h-1zM1039 189h1v1h-1zM1040 187h1v2h-1zM1041 185h1v2h-1zM1042 183h1v2h-1zM1043 182h1v1h-1zM1044 180h1v2h-1zM1045 179h1v1h-1zM1046 177h1v2h-1zM1047 176h1v1h-1zM1048 175h1v1h-1zM1049 173h1v2h-1zM1050 172h1v1h-1zM1051 171h1v1h-1zM1052 170h1v1h-1zM1053 169h1v1h-1zM1054 168h1v1h-1zM1055 167h1v1h-1zM1056 166h1v1h-1zM1057 165h1v1h-1zM1058 164h1v1h-1zM1059 163h1v1h-1zM1060 162h2v1h-2zM1062 161h1v1h-1zM1063 160h2v1h-2zM1065 159h2v1h-2zM1067 158h2v1h-2zM1069 157h2v1h-2zM1071 156h7v1h-7zM1078 155h2v1h-2zM1080 154h1v1h-1zM1081 152h1v2h-1zM1082 151h1v1h-1zM1083 150h1v1h-1zM1084 149h2v1h-2zM1086 148h1v1h-1zM1087 147h3v1h-3zM1090 146h3v1h-3zM1093 145h2v1h-2zM1095 144h1v1h-1zM1096 143h2v1h-2zM1098 142h1v1h-1zM1099 141h2v1h-2zM1101 140h2v1h-2zM1103 139h2v1h-2zM1105 138h2v1h-2zM1107 137h1v1h-1zM1108 136h2v1h-2zM1110 135h1v1h-1zM1111 134h2v1h-2zM1113 133h2v1h-2zM1115 132h1v1h-1zM1116 131h2v1h-2zM1118 130h1v1h-1zM1119 129h2v1h-2zM1121 128h2v1h-2zM1123 127h1v1h-1zM1124 126h2v1h-2zM1126 125h1v1h-1zM1127 124h2v1h-2zM1129 123h2v1h-2zM1131 122h1v1h-1zM1132 123h2v1h-2zM1134 124h3v1h-3zM1137 125h8v1h-8zM1145 126h12v1h-12zM1157 125h2v1h-2zM1159 124h3v1h-3zM1162 123h4v1h-4zM1166 122h2v1h-2zM1168 121h2v1h-2zM1170 120h1v1h-1zM1171 119h1v1h-1zM1172 118h2v1h-2zM1174 117h1v1h-1zM1175 116h2v1h-2zM1177 115h2v1h-2zM1179 114h3v1h-3zM1182 113h3v1h-3zM1185 112h2v1h-2zM1187 111h1v1h-1zM1188 112h2v1h-2zM1190 113h2v1h-2zM1192 114h2v1h-2zM1194 115h2v1h-2zM1196 116h2v1h-2zM1198 117h2v1h-2zM1200 118h2v1h-2zM1202 119h2v1h-2zM1204 120h2v1h-2zM1206 121h6v1h-6zM1212 120h1v1h-1zM1213 118h1v2h-1zM1214 117h1v1h-1zM1215 116h2v1h-2zM1217 115h2v1h-2zM1219 114h1v1h-1zM1220 113h2v1h-2zM1222 112h1v1h-1zM1223 111h1v1h-1zM1224 110h2v1h-2zM1226 109h1v1h-1zM1227 108h1v1h-1z"/>
<path fill="#3CB371" d="M3 458h2v1h-2zM5 457h2v1h-2zM7 456h2v1h-2zM9 455h2v1h-2zM11 454h3v1h-3zM14 453h3v1h-3zM17 454h3v1h-3zM20 455h2v1h-2zM22 456h2v1h-2zM24 457h2v1h-2zM26 458h2v1h-2zM28 459h2v1h-2zM30 460h2v1h-2zM32 461h2v1h-2zM34 462h3v1h-3zM37 463h9v1h-9zM46 462h2v1h-2zM48 463h2v1h-2zM50 464h3v1h-3zM53 465h3v1h-3zM56 466h1v1h-1zM57 467h2v1h-2zM59 468h1v1h-1zM60 469h1v1h-1zM61 470h2v1h-2zM63 471h11v1h-11zM74 470h4v1h-4zM78 469h2v1h-2zM80 470h1v1h-1zM81 471h1v1h-1zM82 472h1v1h-1zM83 473h1v1h-1zM84 474h1v1h-1zM85 475h2v1h-2zM87 476h1v1h-1zM88 477h1v1h-1zM89 478h1v1h-1zM90 479h1v1h-1zM91 480h1v1h-1zM92 481h1v1h-1zM93 482h2v1h-2zM95 483h1v1h-1zM96 484h1v1h-1zM97 485h1v2h-1zM98 487h1v1h-1zM99 488h1v1h-1zM100 489h1v2h-1zM101 491h1v2h-1zM102 493h1v2h-1zM103 495h1v1h-1zM104 496h1v1h-1zM105 497h2v1h-2zM107 498h1v1h-1zM108 499h1v1h-1zM109 500h1v1h-1zM110 501h1v1h-1zM111 502h1v1h-1zM112 503h1v1h-1zM113 504h1v1h-1zM114 505h1v1h-1zM115 506h1v1h-1zM116 507h1v1h-1zM117 508h1v2h-1zM118 510h1v1h-1zM119 511h1v1h-1zM120 512h1v1h-1zM121 513h2v1h-2zM123 514h2v1h-2zM125 515h4v1h-4zM129 516h12v1h-12zM141 515h2v1h-2zM143 514h2v1h-2zM145 513h2v1h-2zM147 512h1v1h-1zM148 511h2v1h-2zM150 510h1v1h-1zM151 509h1v1h-1zM152 507h1v2h-1zM153 506h1v1h-1zM154 504h1v2h-1zM155 503h2v1h-2zM157 502h2v1h-2zM159 501h10v1h-10zM169 502h3v1h-3zM172 503h1v1h-1zM173 504h2v1h-2zM175 505h1v1h-1zM176 506h1v2h-1zM177 508h1v2h-1zM178 510h1v2h-1zM179 512h1v1h-1zM180 513h1v1h-1zM181 514h1v2h-1zM182 516h1v1h-1zM183 517h1v1h-1zM184 518h1v1h-1zM185 519h1v1h-1zM186 520h1v1h-1zM187 521h1v1h-1zM188 522h1v1h-1zM189 523h1v1h-1zM190 524h1v1h-1zM191 525h1v1h-1zM192 526h1v1h-1zM193 527h2v1h-2zM195 528h1v1h-1zM196 529h2v1h-2zM198 530h2v1h-2zM200 531h1v2h-1zM201 533h1v2h-1zM202 535h1v2h-1zM203 537h1v1h-1zM204 538h1v1h-1zM205 539h1v2h-1zM206 541h1v1h-1zM207 542h1v1h-1zM208 543h1v1h-1zM209 544h1v1h-1zM210 545h1v1h-1zM211 546h2v1h-2zM213 547h3v1h-3zM216 548h2v1h-2zM218 549h3v1h-3zM221 550h7v1h-7zM228 551h2v1h-2zM230 552h4v1h-4zM234 551h2v1h-2zM236 550h2v1h-2zM238 549h1v1h-1zM239 548h3v1h-3zM242 547h2v1h-2zM244 548h1v1h-1zM245 549h1v2h-1zM246 551h1v1h-1zM247 552h1v1h-1zM248 553h2v1h-2zM250 554h2v1h-2zM252 555h2v1h-2zM254 556h2v1h-2zM256 557h1v1h-1zM257 558h1v2h-1zM258 560h1v1h-1zM259 561h1v1h-1zM260 562h1v1h-1zM261 563h1v1h-1zM262 564h1v1h-1zM263 565h1v1h-1zM264 566h2v1h-2zM266 567h3v1h-3zM269 568h3v1h-3zM271 569h1v1h-1zM272 570h1v3h-1zM273 573h1v4h-1zM274 577h1v3h-1zM275 580h1v3h-1zM276 583h1v4h-1zM277 587h1v4h-1z"/>
<path fill="#3CB371" d="M328 588h1v3h-1zM329 582h1v6h-1zM330 576h1v6h-1zM331 571h1v5h-1zM332 566h1v5h-1zM333 560h1v6h-1zM334 555h1v5h-1zM335 550h1v5h-1zM336 544h1v6h-1zM337 538h1v6h-1zM338 532h1v6h-1zM339 526h1v6h-1zM340 519h1v7h-1zM341 513h1v6h-1zM342 506h1v7h-1zM343 499h1v7h-1zM344 492h1v7h-1zM345 484h1v8h-1zM346 477h1v7h-1zM347 470h1v7h-1zM348 462h1v8h-1zM349 454h1v8h-1zM350 446h1v8h-1zM351 441h1v5h-1zM352 439h1v2h-1zM353 436h1v3h-1zM354 434h1v2h-1zM355 432h2v1h-2zM355 433h1v1h-1zM357 431h2v1h-2zM359 430h1v1h-1zM360 429h2v1h-2zM362 428h1v1h-1zM363 427h3v1h-3zM366 426h2v1h-2zM368 427h1v1h-1zM369 428h1v1h-1zM370 429h1v1h-1zM371 430h1v1h-1zM372 431h1v1h-1zM373 432h1v1h-1zM374 433h1v1h-1zM375 434h1v1h-1zM376 432h1v2h-1zM377 431h1v1h-1zM378 429h1v2h-1zM379 428h3v1h-3zM382 427h6v1h-6zM388 426h1v1h-1zM389 424h1v2h-1zM390 423h1v1h-1zM391 422h2v1h-2zM393 421h2v1h-2zM395 420h6v1h-6zM401 419h2v1h-2zM403 418h15v1h-15zM418 417h15v1h-15zM433 418h7v1h-7zM440 419h2v1h-2zM442 420h2v1h-2zM443 421h1v1h-1zM444 422h1v2h-1zM445 424h1v2h-1zM446 426h1v2h-1zM447 428h1v2h-1zM448 430h1v2h-1zM449 432h1v2h-1zM450 434h1v2h-1zM451 436h1v1h-1zM452 437h1v1h-1zM453 438h1v1h-1zM454 439h1v1h-1zM455 440h1v1h-1zM456 441h1v1h-1zM457 442h1v1h-1zM458 443h1v1h-1zM459 444h1v1h-1zM460 445h1v1h-1zM461 446h1v2h-1zM462 448h1v1h-1zM463 449h1v1h-1zM464 450h1v1h-1zM465 451h2v1h-2zM467 452h5v1h-5zM472 451h2v1h-2zM474 450h1v1h-1zM475 449h1v1h-1zM476 448h1v1h-1zM477 447h1v1h-1zM478 446h1v1h-1zM479 445h1v1h-1zM480 444h1v1h-1zM481 443h1v1h-1zM482 442h1v1h-1zM483 441h1v1h-1zM484 439h1v2h-1zM485 437h1v2h-1zM486 435h1v2h-1zM487 434h1v1h-1zM488 432h1v2h-1zM489 430h1v2h-1zM490 428h1v2h-1zM491 426h1v2h-1zM492 424h1v2h-1zM493 422h1v2h-1zM494 420h1v2h-1zM495 418h1v2h-1zM496 416h1v2h-1zM497 414h1v2h-1zM498 412h1v2h-1zM499 410h1v2h-1zM500 408h1v2h-1zM501 406h1v2h-1zM502 404h1v2h-1zM503 401h1v3h-1zM504 399h1v2h-1zM505 397h1v2h-1zM506 395h1v2h-1zM507 392h1v3h-1zM508 390h1v2h-1zM509 388h1v2h-1zM510 386h1v2h-1zM511 383h1v3h-1zM512 381h1v2h-1zM513 379h1v2h-1zM514 377h1v2h-1zM515 374h1v3h-1zM516 370h1v4h-1zM517 367h1v3h-1zM518 363h1v4h-1zM519 360h1v3h-1zM520 358h1v2h-1zM521 355h1v3h-1zM522 353h1v2h-1zM523 351h2v1h-2zM523 352h1v1h-1zM525 350h2v1h-2zM527 349h2v1h-2zM529 350h11v1h-11zM540 351h1v2h-1zM541 353h1v2h-1zM542 355h1v2h-1zM543 357h1v1h-1zM544 358h1v2h-1zM545 360h1v2h-1zM546 362h1v2h-1zM547 364h1v2h-1zM548 366h1v1h-1zM549 367h2v1h-2zM551 368h1v1h-1zM552 369h1v1h-1zM553 370h2v1h-2zM555 371h2v1h-2zM557 372h3v1h-3zM560 373h1v1h-1zM561 374h2v1h-2zM563 375h1v1h-1zM564 376h1v1h-1zM565 377h2v1h-2zM567 378h1v1h-1zM568 376h1v2h-1zM569 374h1v2h-1zM570 372h1v2h-1zM571 371h1v1h-1zM572 369h1v2h-1zM573 367h1v2h-1zM574 365h1v2h-1zM575 363h1v2h-1zM576 360h1v3h-1zM577 357h1v3h-1zM578 354h1v3h-1zM579 351h1v3h-1zM580 347h1v4h-1zM581 344h1v3h-1zM582 340h1v4h-1zM583 337h1v3h-1zM584 333h1v4h-1zM585 330h1v3h-1zM586 326h1v4h-1zM587 323h1v3h-1zM588 319h1v4h-1zM589 315h1v4h-1zM590 311h1v4h-1zM591 308h1v3h-1zM592 305h1v3h-1zM593 301h1v4h-1zM594 298h1v3h-1zM595 295h1v3h-1zM596 292h1v3h-1zM597 289h1v3h-1zM598 286h1v3h-1zM599 283h1v3h-1zM600 280h1v3h-1zM601 276h1v4h-1zM602 273h1v3h-1zM603 270h1v3h-1zM604 267h1v3h-1zM605 263h1v4h-1zM606 260h1v3h-1zM607 257h1v3h-1zM608 254h1v3h-1zM609 251h1v3h-1zM610 248h1v3h-1zM611 245h1v3h-1zM612 242h1v3h-1zM613 238h1v4h-1zM614 235h1v3h-1zM615 232h1v3h-1zM616 228h1v4h-1zM617 224h1v4h-1zM618 220h1v4h-1zM619 217h1v3h-1zM620 215h1v2h-1zM621 213h1v2h-1zM622 211h1v2h-1zM623 209h1v2h-1zM624 208h1v1h-1zM625 206h1v2h-1zM626 205h1v1h-1zM627 204h1v1h-1zM628 202h1v2h-1zM629 200h1v2h-1zM630 198h1v2h-1zM631 196h1v2h-1zM632 194h1v2h-1zM633 192h1v2h-1zM634 190h1v2h-1zM635 188h1v2h-1zM636 187h1v1h-1zM637 185h1v2h-1zM638 184h1v1h-1zM639 183h1v1h-1zM640 184h2v1h-2zM642 185h2v1h-2zM644 186h1v1h-1zM645 187h2v1h-2zM647 188h1v1h-1zM648 189h2v1h-2zM650 190h4v1h-4zM654 189h3v1h-3zM657 188h2v1h-2zM659 187h1v1h-1zM660 186h1v1h-1zM661 185h1v1h-1zM662 184h1v1h-1zM663 183h1v1h-1zM664 182h2v1h-2zM666 181h1v1h-1zM667 180h2v1h-2zM669 179h2v1h-2zM671 178h7v1h-7zM678 177h4v1h-4zM682 176h4v1h-4zM686 175h3v1h-3zM689 174h2v1h-2zM691 173h1v1h-1zM692 171h1v2h-1zM693 169h1v2h-1zM694 167h1v2h-1zM695 166h1v1h-1zM696 164h1v2h-1zM697 162h1v2h-1zM698 160h1v2h-1zM699 158h1v2h-1zM700 156h1v2h-1zM701 154h1v2h-1zM702 152h1v2h-1zM703 151h1v1h-1zM704 152h1v1h-1zM705 153h1v1h-1zM706 154h1v1h-1zM707 155h1v1h-1zM708 156h2v1h-2zM710 157h3v1h-3zM713 158h3v1h-3zM716 159h1v1h-1zM717 160h1v1h-1zM718 161h1v1h-1zM719 162h1v1h-1zM720 163h2v1h-2zM722 164h2v1h-2zM723 165h1v1h-1zM724 166h1v3h-1zM725 169h1v4h-1zM726 173h1v3h-1zM727 176h1v3h-1zM728 179h1v4h-1zM729 183h1v4h-1zM730 187h1v4h-1zM731 191h1v3h-1zM732 194h1v3h-1zM733 197h1v2h-1zM734 199h1v3h-1zM735 202h1v3h-1zM736 205h1v2h-1zM737 207h1v2h-1zM738 209h1v2h-1zM739 211h1v3h-1zM740 214h1v2h-1zM741 216h1v2h-1zM742 218h1v2h-1zM743 220h1v3h-1zM744 223h1v2h-1zM745 225h1v2h-1zM746 227h1v2h-1zM747 229h1v2h-1zM748 231h1v2h-1zM749 233h1v2h-1zM750 235h1v2h-1zM751 237h1v2h-1zM752 239h1v2h-1zM753 241h1v2h-1zM754 243h1v2h-1zM755 245h1v3h-1zM756 248h1v3h-1zM757 251h1v2h-1zM758 253h1v3h-1zM759 256h1v3h-1zM760 259h1v2h-1zM761 261h1v3h-1zM762 264h1v2h-1zM763 266h1v2h-1zM764 268h1v2h-1zM765 270h1v1h-1zM766 271h1v2h-1zM767 273h5v1h-5zM772 272h1v1h-1zM773 271h1v1h-1zM774 270h1v1h-1zM775 269h1v1h-1zM776 268h1v1h-1zM777 266h1v2h-1zM778 265h1v1h-1zM779 264h3v1h-3zM782 263h7v1h-7zM789 264h7v1h-7zM796 263h1v1h-1zM797 262h1v1h-1zM798 261h1v1h-1zM799 259h1v2h-1zM800 257h1v2h-1zM801 254h1v3h-1zM802 252h1v2h-1zM803 250h1v1h-1zM803 251h2v1h-2zM805 252h1v1h-1zM806 253h1v1h-1zM807 254h2v1h-2zM809 255h4v1h-4zM813 256h9v1h-9zM822 255h4v1h-4zM826 254h2v1h-2zM828 255h2v1h-2zM830 256h2v1h-2zM832 257h2v1h-2zM834 258h10v1h-10zM844 259h2v1h-2zM846 260h6v1h-6zM852 261h1v1h-1zM853 262h2v1h-2zM855 263h1v1h-1zM856 264h1v1h-1zM857 265h2v1h-2zM859 266h1v1h-1zM860 267h1v1h-1zM861 268h2v1h-2zM863 269h1v1h-1zM864 270h2v1h-2zM866 271h8v1h-8zM874 270h2v1h-2zM876 269h1v1h-1zM877 268h1v1h-1zM878 267h1v1h-1zM879 266h1v1h-1zM880 265h1v1h-1zM881 263h1v2h-1zM882 262h1v1h-1zM883 261h1v1h-1zM884 259h1v2h-1zM885 258h1v1h-1zM886 256h1v2h-1zM887 255h1v1h-1zM888 253h1v2h-1zM889 251h1v2h-1zM890 249h1v2h-1zM891 248h3v1h-3zM894 247h2v1h-2zM896 248h1v1h-1zM897 249h1v2h-1zM898 251h1v1h-1zM899 252h5v1h-5zM904 253h1v1h-1zM905 254h1v1h-1zM906 255h1v1h-1zM907 256h1v1h-1zM908 257h1v2h-1zM909 259h1v2h-1zM910 261h1v2h-1zM911 263h1v2h-1zM912 265h1v2h-1zM913 267h1v2h-1zM914 269h1v2h-1zM915 271h1v2h-1zM916 273h1v2h-1zM917 275h1v1h-1zM918 276h1v2h-1zM919 278h1v1h-1zM920 279h1v2h-1zM921 281h1v2h-1zM922 283h1v2h-1zM923 285h1v2h-1zM924 287h1v2h-1zM925 289h1v2h-1zM926 291h1v2h-1zM927 293h1v2h-1zM928 295h1v2h-1zM929 297h1v2h-1zM930 299h1v2h-1zM931 301h1v2h-1zM932 303h1v1h-1zM933 304h1v2h-1zM934 306h1v1h-1zM935 307h10v1h-10zM945 308h5v1h-5zM950 307h2v1h-2zM952 305h1v2h-1zM953 304h1v1h-1zM954 302h1v2h-1zM955 301h1v1h-1zM956 302h1v1h-1zM957 303h1v1h-1zM958 304h1v1h-1zM959 305h2v1h-2zM961 304h2v1h-2zM963 303h1v1h-1zM964 302h2v1h-2zM966 301h1v1h-1zM967 300h1v1h-1zM968 298h1v2h-1zM969 297h1v1h-1zM970 295h1v2h-1zM971 294h5v1h-5zM976 295h1v2h-1zM977 297h1v1h-1zM978 298h1v2h-1zM979 300h1v1h-1zM980 301h1v2h-1zM981 303h1v2h-1zM982 305h1v2h-1zM983 307h1v1h-1zM984 308h1v1h-1zM985 309h1v2h-1zM986 311h1v1h-1zM987 312h1v1h-1zM988 313h1v1h-1zM989 314h1v1h-1zM990 315h1v1h-1zM991 316h1v1h-1zM992 317h1v1h-1zM993 318h2v1h-2zM995 319h1v1h-1zM996 320h2v1h-2zM998 321h3v1h-3zM1001 320h2v1h-2zM1003 319h3v1h-3zM1006 318h3v1h-3zM1009 317h2v1h-2zM1011 316h3v1h-3zM1014 315h2v1h-2zM1016 316h2v1h-2zM1018 317h3v1h-3zM1021 318h3v1h-3zM1024 316h1v2h-1zM1025 315h1v1h-1zM1026 313h1v2h-1zM1027 312h1v1h-1zM1028 310h1v2h-1zM1029 308h1v2h-1zM1030 306h1v2h-1zM1031 303h1v3h-1zM1032 300h1v3h-1zM1033 298h1v2h-1zM1034 295h1v3h-1zM1035 292h1v3h-1zM1036 289h1v3h-1zM1037 285h1v4h-1zM1038 282h1v3h-1zM1039 279h1v3h-1zM1040 276h1v3h-1zM1041 272h1v4h-1zM1042 269h1v3h-1zM1043 265h1v4h-1zM1044 261h1v4h-1zM1045 256h1v5h-1zM1046 252h1v4h-1zM1047 247h1v5h-1zM1048 242h1v5h-1zM1049 238h1v4h-1zM1050 233h1v5h-1zM1051 229h1v4h-1zM1052 226h1v3h-1zM1053 223h1v3h-1zM1054 220h1v3h-1zM1055 218h1v2h-1zM1056 216h1v2h-1zM1057 214h1v2h-1zM1058 212h1v2h-1zM1059 211h1v1h-1zM1060 210h2v1h-2zM1062 209h1v1h-1zM1063 208h1v1h-1zM1064 207h1v1h-1zM1065 205h1v2h-1zM1066 204h1v1h-1zM1067 203h1v1h-1zM1068 202h1v1h-1zM1069 201h1v1h-1zM1070 200h1v1h-1zM1071 199h2v1h-2zM1073 198h2v1h-2zM1075 197h2v1h-2zM1077 196h2v1h-2zM1079 195h1v1h-1zM1080 193h1v2h-1zM1081 192h1v1h-1zM1082 190h1v2h-1zM1083 189h1v1h-1zM1084 188h1v1h-1zM1085 186h1v2h-1zM1086 185h1v1h-1zM1087 184h1v1h-1zM1088 183h2v1h-2zM1090 182h1v1h-1zM1091 181h2v1h-2zM1093 182h3v1h-3zM1096 183h2v1h-2zM1098 184h2v1h-2zM1100 185h2v1h-2zM1102 186h2v1h-2zM1104 187h2v1h-2zM1106 188h3v1h-3zM1109 189h4v1h-4zM1113 190h4v1h-4zM1117 191h4v1h-4zM1121 190h2v1h-2zM1123 189h2v1h-2zM1125 188h2v1h-2zM1127 187h1v1h-1zM1128 186h2v1h-2zM1130 185h1v1h-1zM1131 184h1v1h-1zM1132 185h1v2h-1zM1133 187h1v1h-1zM1134 188h1v2h-1zM1135 190h9v1h-9zM1144 191h1v1h-1zM1145 192h2v1h-2zM1147 193h1v1h-1zM1148 194h2v1h-2zM1150 195h6v1h-6zM1155 194h1v1h-1zM1156 192h1v2h-1zM1157 190h1v2h-1zM1158 188h1v2h-1zM1159 186h1v2h-1zM1160 185h1v1h-1zM1161 184h1v1h-1zM1162 183h1v1h-1zM1163 182h3v1h-3zM1166 181h4v1h-4zM1170 180h2v1h-2zM1172 181h1v1h-1zM1173 182h2v1h-2zM1175 183h1v1h-1zM1176 184h2v1h-2zM1178 185h2v1h-2zM1180 186h2v1h-2zM1182 187h2v1h-2zM1184 188h2v1h-2zM1186 189h3v1h-3zM1189 190h3v1h-3zM1192 191h2v1h-2zM1194 192h3v1h-3zM1197 193h4v1h-4zM1201 194h4v1h-4zM1205 195h5v1h-5zM1210 194h2v1h-2zM1211 193h1v1h-1zM1212 191h1v2h-1zM1213 189h1v2h-1zM1214 187h1v2h-1zM1215 185h1v2h-1zM1216 184h1v1h-1zM1217 183h1v1h-1zM1218 182h1v1h-1zM1219 181h1v1h-1zM1220 180h1v1h-1zM1221 178h1v2h-1zM1222 177h1v1h-1zM1223 176h1v1h-1zM1224 175h1v1h-1zM1225 173h1v2h-1zM1226 172h1v1h-1zM1227 171h1v1h-1z"/>
<path fill="#1E90FF" d="M3 631h1v1h-1zM4 632h2v1h-2zM6 633h3v1h-3zM9 634h3v1h-3zM12 635h1v2h-1zM13 637h1v2h-1zM14 639h1v2h-1zM15 641h1v2h-1zM16 643h1v2h-1zM17 645h1v2h-1zM18 647h1v2h-1zM19 649h1v2h-1zM20 651h2v1h-2zM22 652h2v1h-2zM24 653h1v1h-1zM25 654h2v1h-2zM27 655h1v1h-1zM28 656h1v1h-1zM29 657h2v1h-2zM31 658h1v1h-1zM32 656h1v2h-1zM33 655h1v1h-1zM34 653h1v2h-1zM35 652h1v1h-1zM36 653h2v1h-2zM38 654h3v1h-3zM41 655h3v1h-3zM44 653h1v2h-1zM45 652h1v1h-1zM46 650h1v2h-1zM47 649h1v1h-1zM48 650h2v1h-2zM50 651h3v1h-3zM53 652h3v1h-3zM56 653h1v1h-1zM57 654h1v1h-1zM58 655h1v1h-1zM59 656h1v1h-1zM60 655h1v1h-1zM61 654h1v1h-1zM62 653h1v1h-1zM63 652h1v1h-1zM64 651h1v1h-1zM65 650h1v1h-1zM66 649h1v1h-1zM67 648h2v1h-2zM69 649h5v1h-5zM74 648h2v1h-2zM76 649h1v2h-1zM77 651h1v2h-1zM78 653h1v2h-1zM79 655h1v2h-1zM80 657h1v2h-1zM81 659h1v2h-1zM82 661h1v2h-1zM83 663h2v1h-2zM85 664h7v1h-7zM92 665h1v1h-1zM93 666h2v1h-2zM95 667h2v1h-2zM97 668h3v1h-3zM100 669h2v1h-2zM102 670h2v1h-2zM103 669h1v1h-1zM104 665h1v4h-1zM105 662h1v3h-1zM106 658h1v4h-1zM107 656h1v1h-1zM107 657h3v1h-3zM110 658h2v1h-2zM112 659h1v1h-1zM113 660h1v1h-1zM114 661h1v1h-1zM115 662h9v1h-9zM124 661h1v1h-1zM125 660h1v1h-1zM126 659h1v1h-1zM127 658h1v1h-1zM128 657h2v1h-2zM130 656h1v1h-1zM131 655h1v1h-1zM132 653h1v2h-1zM133 651h1v2h-1zM134 649h1v2h-1zM135 648h1v1h-1zM136 649h1v2h-1zM137 651h1v2h-1zM138 653h1v2h-1zM139 655h1v1h-1zM140 654h1v1h-1zM141 653h1v1h-1zM142 652h1v1h-1zM143 651h2v1h-2zM145 650h2v1h-2zM147 649h1v1h-1zM148 650h2v1h-2zM150 651h2v1h-2zM152 650h1v1h-1zM153 649h1v1h-1zM154 648h1v1h-1zM155 647h1v1h-1zM156 646h2v1h-2zM158 645h1v1h-1zM159 644h1v1h-1zM160 645h1v1h-1zM161 646h1v2h-1zM162 648h1v1h-1zM163 649h1v1h-1zM164 648h2v1h-2zM166 647h1v1h-1zM167 646h1v1h-1zM168 647h2v1h-2zM170 648h2v1h-2zM171 649h1v1h-1zM172 650h1v3h-1zM173 653h1v2h-1zM174 655h1v3h-1zM175 658h1v2h-1zM176 660h1v1h-1zM177 661h1v2h-1zM178 663h1v1h-1zM179 664h2v1h-2zM181 663h2v1h-2zM183 662h3v1h-3zM186 661h3v1h-3zM189 662h3v1h-3zM192 661h1v1h-1zM193 660h1v1h-1zM194 659h1v1h-1zM195 658h2v1h-2zM197 657h2v1h-2zM199 656h1v1h-1zM200 657h1v2h-1zM201 659h1v2h-1zM202 661h1v2h-1zM203 663h2v1h-2zM203 664h1v1h-1zM205 661h1v2h-1zM206 660h1v1h-1zM207 659h2v1h-2zM209 658h2v1h-2zM211 657h2v1h-2zM213 656h2v1h-2zM215 655h2v1h-2zM217 654h2v1h-2zM219 653h5v1h-5zM223 652h1v1h-1zM224 650h1v2h-1zM225 648h1v2h-1zM226 646h1v2h-1zM227 644h1v2h-1zM228 646h1v3h-1zM229 649h1v3h-1zM230 652h1v3h-1zM231 655h2v1h-2zM231 656h1v1h-1zM232 654h1v1h-1zM233 653h1v1h-1zM234 651h1v2h-1zM235 650h2v1h-2zM237 649h2v1h-2zM239 648h1v1h-1zM240 649h2v1h-2zM242 650h2v1h-2zM243 651h1v1h-1zM244 652h1v3h-1zM245 655h1v3h-1zM246 658h1v3h-1zM247 661h2v1h-2zM247 662h1v1h-1zM248 660h1v1h-1zM249 659h1v1h-1zM250 657h1v2h-1zM251 656h1v1h-1zM252 657h1v1h-1zM253 658h2v1h-2zM255 659h3v1h-3zM258 658h6v1h-6zM264 657h1v1h-1zM265 656h1v1h-1zM266 655h1v1h-1zM267 654h1v1h-1zM268 652h1v2h-1zM269 650h1v2h-1zM270 648h1v2h-1zM271 644h1v4h-1zM272 640h1v4h-1zM273 636h1v4h-1zM274 632h1v4h-1zM275 629h1v3h-1zM276 628h2v1h-2zM278 627h1v1h-1zM279 626h7v1h-7zM286 625h3v1h-3zM289 624h2v1h-2zM291 623h1v1h-1zM292 622h2v1h-2zM294 621h1v1h-1zM295 620h1v1h-1zM296 619h1v1h-1zM297 618h1v1h-1zM298 617h2v1h-2zM299 616h1v1h-1zM300 618h1v2h-1zM301 620h1v3h-1zM302 623h1v2h-1zM303 625h1v2h-1zM304 627h2v1h-2zM306 628h4v1h-4zM310 627h2v1h-2zM312 628h1v1h-1zM313 629h1v2h-1zM314 631h1v1h-1zM315 632h1v1h-1zM316 633h1v2h-1zM317 635h1v1h-1zM318 636h1v2h-1zM319 638h1v1h-1zM320 639h1v2h-1zM321 641h1v1h-1zM322 642h1v2h-1zM323 644h1v1h-1zM324 643h1v1h-1zM325 642h1v1h-1zM326 641h1v1h-1zM327 640h2v1h-2zM329 639h2v1h-2zM331 638h2v1h-2zM333 639h3v1h-3zM336 640h1v1h-1zM337 641h1v2h-1zM338 643h1v1h-1zM339 644h2v1h-2zM341 643h2v1h-2zM343 642h3v1h-3zM346 641h11v1h-11zM357 640h2v1h-2zM359 639h3v1h-3zM362 638h4v1h-4zM366 637h2v1h-2zM367 638h1v1h-1zM368 639h1v4h-1zM369 643h1v3h-1zM370 646h1v4h-1zM371 650h2v1h-2zM371 651h1v1h-1zM373 649h1v1h-1zM374 648h1v1h-1zM375 647h1v1h-1zM376 646h2v1h-2zM378 645h1v1h-1zM379 644h1v1h-1zM380 645h2v1h-2zM382 646h3v1h-3zM385 645h2v1h-2zM387 644h2v1h-2zM389 645h3v1h-3zM392 646h1v1h-1zM393 647h2v1h-2zM395 648h1v1h-1zM396 647h1v1h-1zM397 646h1v1h-1zM398 645h1v1h-1zM399 644h1v1h-1zM400 645h2v1h-2zM402 646h3v1h-3zM405 645h2v1h-2zM407 644h14v1h-14zM421 643h2v1h-2zM423 642h1v1h-1zM424 641h1v1h-1zM425 640h1v1h-1zM426 639h1v1h-1zM427 638h2v1h-2zM429 639h3v1h-3zM432 638h2v1h-2zM434 637h2v1h-2zM435 636h1v1h-1zM436 638h1v2h-1zM437 640h1v2h-1zM438 642h1v2h-1zM439 644h2v1h-2zM439 645h1v1h-1zM440 643h1v1h-1zM441 641h1v2h-1zM442 639h1v2h-1zM443 637h1v2h-1zM444 635h1v2h-1zM445 632h1v3h-1zM446 630h1v2h-1zM447 628h1v2h-1zM448 627h1v1h-1zM449 625h1v2h-1zM450 624h1v1h-1zM451 623h2v1h-2zM453 624h7v1h-7zM460 623h1v1h-1zM461 621h1v2h-1zM462 620h1v1h-1zM463 619h2v1h-2zM465 620h5v1h-5zM470 619h2v1h-2zM472 620h1v1h-1zM473 621h1v1h-1zM474 622h1v1h-1zM475 623h2v1h-2zM477 624h7v1h-7zM484 625h1v1h-1zM485 626h1v1h-1zM486 627h1v1h-1zM487 628h1v3h-1zM488 631h1v6h-1zM489 637h1v6h-1zM490 643h1v6h-1zM491 649h2v1h-2zM491 650h2v1h-2zM491 651h1v1h-1zM493 647h1v2h-1zM494 645h1v2h-1zM495 643h1v1h-1zM495 644h3v1h-3zM498 645h4v1h-4zM502 644h3v1h-3zM505 643h2v1h-2zM507 642h5v1h-5zM512 641h1v1h-1zM513 640h1v1h-1zM514 639h1v1h-1zM515 638h1v1h-1zM516 637h2v1h-2zM518 636h1v1h-1zM519 635h1v1h-1zM520 634h1v1h-1zM521 632h1v2h-1zM522 631h1v1h-1zM523 630h2v1h-2zM525 629h2v1h-2zM527 628h2v1h-2zM529 627h2v1h-2zM531 626h1v1h-1zM532 627h2v1h-2zM534 628h4v1h-4zM538 627h2v1h-2zM540 625h1v2h-1zM541 623h1v2h-1zM542 621h1v2h-1zM543 620h2v1h-2zM545 619h2v1h-2zM547 618h2v1h-2zM549 619h3v1h-3zM552 620h1v1h-1zM553 621h2v1h-2zM555 622h5v1h-5zM560 621h1v1h-1zM561 620h1v1h-1zM562 619h1v1h-1zM563 618h2v1h-2zM565 617h2v1h-2zM567 616h2v1h-2zM569 615h2v1h-2zM571 614h1v1h-1zM572 615h2v1h-2zM574 616h2v1h-2zM576 617h1v1h-1zM577 618h1v1h-1zM578 619h1v1h-1zM579 620h7v1h-7zM586 619h2v1h-2zM588 618h1v1h-1zM589 617h1v1h-1zM590 616h1v1h-1zM591 615h6v1h-6zM597 616h3v1h-3zM600 617h1v1h-1zM601 618h2v1h-2zM603 619h5v1h-5zM608 620h2v1h-2zM610 621h2v1h-2zM611 622h1v2h-1zM612 624h1v4h-1zM613 628h1v4h-1zM614 632h1v4h-1zM615 636h1v2h-1zM615 638h6v1h-6zM621 637h2v1h-2zM623 636h1v1h-1zM624 635h2v1h-2zM626 634h1v1h-1zM627 633h1v1h-1zM628 634h2v1h-2zM630 635h2v1h-2zM632 636h1v1h-1zM633 637h1v2h-1zM634 639h2v1h-2zM635 640h1v1h-1zM636 635h1v4h-1zM637 631h1v4h-1zM638 627h1v4h-1zM639 624h2v1h-2zM639 625h1v2h-1zM641 623h2v1h-2zM643 622h2v1h-2zM645 621h2v1h-2zM647 620h1v1h-1zM648 621h1v2h-1zM649 623h1v1h-1zM650 624h1v2h-1zM651 626h1v1h-1zM652 627h2v1h-2zM654 628h2v1h-2zM656 629h1v2h-1zM657 631h1v2h-1zM658 633h1v2h-1zM659 635h1v1h-1zM659 636h2v1h-2zM661 635h2v1h-2zM663 634h1v1h-1zM664 635h1v1h-1zM665 636h2v1h-2zM667 637h6v1h-6zM673 636h2v1h-2zM675 635h2v1h-2zM677 636h3v1h-3zM680 637h1v1h-1zM681 638h2v1h-2zM683 639h2v1h-2zM685 638h2v1h-2zM687 637h1v1h-1zM688 636h1v1h-1zM689 634h1v2h-1zM690 633h1v1h-1zM691 632h1v1h-1zM692 633h2v1h-2zM694 634h2v1h-2zM695 635h1v1h-1zM696 636h1v2h-1zM697 638h1v3h-1zM698 641h1v2h-1zM699 643h1v2h-1zM700 645h1v2h-1zM701 647h1v1h-1zM702 648h1v2h-1zM703 650h1v1h-1zM704 651h1v2h-1zM705 653h1v2h-1zM706 655h1v2h-1zM707 657h1v1h-1zM707 658h3v1h-3zM710 657h3v1h-3zM713 656h2v1h-2zM715 655h1v1h-1zM716 654h1v1h-1zM717 652h1v2h-1zM718 651h1v1h-1zM719 650h2v1h-2zM721 649h3v1h-3zM723 648h1v1h-1zM724 650h1v4h-1zM725 654h1v3h-1zM726 657h1v4h-1zM727 661h1v1h-1zM727 662h6v1h-6zM733 663h4v1h-4zM737 664h4v1h-4zM741 663h2v1h-2zM743 662h1v1h-1zM744 663h2v1h-2zM746 664h4v1h-4zM750 663h2v1h-2zM752 664h1v1h-1zM753 665h2v1h-2zM755 666h1v1h-1zM756 667h1v1h-1zM757 668h2v1h-2zM759 669h1v1h-1zM760 670h2v1h-2zM762 671h2v1h-2zM764 670h1v1h-1zM765 669h1v1h-1zM766 668h1v1h-1zM767 667h2v1h-2zM769 668h3v1h-3zM771 667h1v1h-1zM772 665h1v2h-1zM773 662h1v3h-1zM774 660h1v2h-1zM775 658h3v1h-3zM775 659h1v1h-1zM778 657h3v1h-3zM781 658h3v1h-3zM784 657h1v1h-1zM785 656h1v1h-1zM786 655h1v1h-1zM787 654h1v1h-1zM788 655h1v1h-1zM789 656h1v2h-1zM790 658h1v1h-1zM791 659h1v1h-1zM792 660h1v1h-1zM793 661h2v1h-2zM795 662h5v1h-5zM800 663h2v1h-2zM802 664h2v1h-2zM804 665h2v1h-2zM806 666h2v1h-2zM808 665h1v1h-1zM809 664h1v1h-1zM810 663h1v1h-1zM811 662h2v1h-2zM813 661h2v1h-2zM815 660h1v1h-1zM816 659h1v1h-1zM817 657h1v2h-1zM818 656h1v1h-1zM819 655h2v1h-2zM821 656h7v1h-7zM827 655h1v1h-1zM828 651h1v4h-1zM829 647h1v4h-1zM830 643h1v4h-1zM831 640h1v1h-1zM831 641h3v1h-3zM831 642h1v1h-1zM834 642h3v1h-3zM837 643h4v1h-4zM841 644h3v1h-3zM844 642h1v2h-1zM845 640h1v2h-1zM846 638h1v2h-1zM847 636h1v1h-1zM847 637h3v1h-3zM850 638h3v1h-3zM853 637h2v1h-2zM855 636h1v1h-1zM856 635h1v1h-1zM857 634h1v1h-1zM858 633h1v1h-1zM859 632h3v1h-3zM862 631h4v1h-4zM866 630h7v1h-7zM873 629h3v1h-3zM875 628h1v1h-1zM875 630h1v1h-1zM876 631h1v6h-1zM877 637h1v6h-1zM878 643h1v6h-1zM879 649h1v1h-1zM879 650h3v1h-3zM879 651h1v1h-1zM882 649h1v1h-1zM883 648h2v1h-2zM885 649h3v1h-3zM888 650h2v1h-2zM890 651h2v1h-2zM891 652h1v1h-1zM892 653h1v2h-1zM893 655h1v3h-1zM894 658h1v2h-1zM895 660h1v2h-1zM896 662h1v1h-1zM897 663h2v1h-2zM899 664h1v1h-1zM900 662h1v2h-1zM901 661h1v1h-1zM902 659h1v2h-1zM903 658h1v1h-1zM904 659h1v1h-1zM905 660h1v1h-1zM906 661h1v1h-1zM907 662h1v1h-1zM908 663h2v1h-2zM910 664h2v1h-2zM912 663h1v1h-1zM913 661h1v2h-1zM914 660h1v1h-1zM915 659h5v1h-5zM920 660h1v1h-1zM921 661h2v1h-2zM923 662h1v1h-1zM924 663h2v1h-2zM926 664h3v1h-3zM929 665h7v1h-7zM935 664h1v1h-1zM936 660h1v4h-1zM937 657h1v3h-1zM938 653h1v4h-1zM939 651h2v1h-2zM939 652h1v1h-1zM941 652h3v1h-3zM943 653h1v1h-1zM944 654h1v2h-1zM945 656h1v2h-1zM946 658h1v2h-1zM947 660h1v1h-1zM947 661h6v1h-6zM953 662h3v1h-3zM956 663h2v1h-2zM958 664h2v1h-2zM960 662h1v2h-1zM961 661h1v1h-1zM962 659h1v2h-1zM963 658h5v1h-5zM968 657h1v1h-1zM969 656h1v1h-1zM970 655h1v1h-1zM971 653h1v2h-1zM972 651h1v2h-1zM973 649h1v2h-1zM974 647h1v2h-1zM975 644h1v3h-1zM976 641h1v3h-1zM977 639h1v2h-1zM978 636h1v3h-1zM979 634h1v2h-1zM980 633h2v1h-2zM982 632h1v1h-1zM983 631h2v1h-2zM985 632h4v1h-4zM989 631h2v1h-2zM991 630h5v1h-5zM996 631h1v1h-1zM997 632h1v2h-1zM998 634h1v1h-1zM999 635h1v1h-1zM1000 636h1v1h-1zM1001 637h1v2h-1zM1002 639h1v1h-1zM1003 640h1v1h-1zM1004 638h1v2h-1zM1005 637h1v1h-1zM1006 635h1v2h-1zM1007 634h2v1h-2zM1009 633h2v1h-2zM1011 632h1v1h-1zM1012 630h1v2h-1zM1013 629h1v1h-1zM1014 627h1v2h-1zM1015 626h6v1h-6zM1021 625h2v1h-2zM1023 624h3v1h-3zM1026 623h2v1h-2zM1028 624h1v2h-1zM1029 626h1v2h-1zM1030 628h1v2h-1zM1031 630h2v1h-2zM1033 629h2v1h-2zM1035 628h1v1h-1zM1036 627h1v1h-1zM1037 625h1v2h-1zM1038 624h2v1h-2zM1039 623h1v1h-1zM1040 625h1v3h-1zM1041 628h1v2h-1zM1042 630h1v3h-1zM1043 633h1v2h-1zM1044 635h2v1h-2zM1046 636h2v1h-2zM1048 637h1v1h-1zM1049 638h1v1h-1zM1050 639h1v1h-1zM1051 640h1v1h-1zM1052 639h1v1h-1zM1053 638h1v1h-1zM1054 637h1v1h-1zM1055 636h1v1h-1zM1056 637h2v1h-2zM1058 638h3v1h-3zM1061 637h2v1h-2zM1063 636h1v1h-1zM1064 637h1v1h-1zM1065 638h1v1h-1zM1066 639h1v1h-1zM1067 640h2v1h-2zM1069 639h2v1h-2zM1071 638h1v1h-1zM1072 639h2v1h-2zM1074 640h2v1h-2zM1075 641h1v1h-1zM1076 642h1v4h-1zM1077 646h1v4h-1zM1078 650h1v4h-1zM1079 654h2v1h-2zM1079 655h1v2h-1zM1080 651h1v3h-1zM1081 648h1v3h-1zM1082 644h1v4h-1zM1083 641h1v3h-1zM1084 639h1v2h-1zM1085 636h1v3h-1zM1086 634h1v2h-1zM1087 632h1v2h-1zM1088 634h1v3h-1zM1089 637h1v3h-1zM1090 640h1v3h-1zM1091 643h2v1h-2zM1091 644h1v1h-1zM1092 642h1v1h-1zM1093 641h1v1h-1zM1094 639h1v2h-1zM1095 638h2v1h-2zM1097 637h2v1h-2zM1099 636h11v1h-11zM1110 635h4v1h-4zM1114 634h6v1h-6zM1120 635h1v1h-1zM1121 636h1v1h-1zM1122 637h1v1h-1zM1123 638h1v1h-1zM1124 639h2v1h-2zM1126 640h3v1h-3zM1129 639h3v1h-3zM1131 638h1v1h-1zM1131 640h1v1h-1zM1132 641h1v5h-1zM1133 646h1v4h-1zM1134 650h1v5h-1zM1135 655h2v1h-2zM1135 656h2v1h-2zM1135 657h1v1h-1zM1137 653h1v2h-1zM1138 651h1v2h-1zM1139 649h5v1h-5zM1139 650h1v1h-1zM1144 650h1v1h-1zM1145 651h2v1h-2zM1147 652h1v1h-1zM1148 653h2v1h-2zM1150 654h2v1h-2zM1152 653h2v1h-2zM1154 652h1v1h-1zM1155 651h1v1h-1zM1156 649h1v2h-1zM1157 647h1v2h-1zM1158 645h1v2h-1zM1159 644h5v1h-5zM1164 643h1v1h-1zM1165 642h1v1h-1zM1166 641h1v1h-1zM1167 640h1v1h-1zM1168 639h1v1h-1zM1169 638h1v1h-1zM1170 637h1v1h-1zM1171 636h1v1h-1zM1172 635h2v1h-2zM1174 634h1v1h-1zM1175 633h3v1h-3zM1178 632h2v1h-2zM1180 633h1v1h-1zM1181 634h2v1h-2zM1183 635h2v1h-2zM1185 634h3v1h-3zM1187 633h1v1h-1zM1187 635h1v1h-1zM1188 636h1v4h-1zM1189 640h1v4h-1zM1190 644h1v4h-1zM1191 648h1v2h-1zM1191 650h7v1h-7zM1198 649h4v1h-4zM1202 648h7v1h-7zM1209 647h2v1h-2zM1211 646h1v1h-1zM1212 645h1v1h-1zM1213 644h1v1h-1zM1214 643h1v1h-1zM1215 642h1v1h-1zM1216 641h2v1h-2zM1218 640h1v1h-1zM1219 639h1v1h-1zM1220 640h1v1h-1zM1221 641h2v1h-2zM1223 642h2v1h-2zM1225 641h2v1h-2zM1227 640h1v1h-1z"/>
<rect x="2" y="2" width="1238" height="1" fill="#000080"/>
<rect x="2" y="2" width="1" height="590" fill="#000080"/>
<rect x="2" y="593" width="1" height="107" fill="#000080"/>
<rect x="1239" y="2" width="1" height="590" fill="#000080"/>
<rect x="1239" y="593" width="1" height="107" fill="#000080"/>
<rect x="2" y="591" width="1238" height="1" fill="#000080"/>
<rect x="2" y="593" width="1238" height="1" fill="#000080"/>
<rect x="2" y="699" width="1238" height="1" fill="#000080"/>
<rect x="1240" y="34" width="2" height="1" fill="#000080"/>
<rect x="1240" y="71" width="2" height="1" fill="#000080"/>
<rect x="1240" y="107" width="2" height="1" fill="#000080"/>
<rect x="1240" y="144" width="2" height="1" fill="#000080"/>
<rect x="1240" y="181" width="2" height="1" fill="#000080"/>
<rect x="1240" y="218" width="2" height="1" fill="#000080"/>
<rect x="1240" y="254" width="2" height="1" fill="#000080"/>
<rect x="1240" y="291" width="2" height="1" fill="#000080"/>
<rect x="1240" y="328" width="2" height="1" fill="#000080"/>
<rect x="1240" y="364" width="2" height="1" fill="#000080"/>
<rect x="1240" y="401" width="2" height="1" fill="#000080"/>
<rect x="1240" y="438" width="2" height="1" fill="#000080"/>
<rect x="1240" y="474" width="2" height="1" fill="#000080"/>
<rect x="1240" y="511" width="2" height="1" fill="#000080"/>
<rect x="1240" y="548" width="2" height="1" fill="#000080"/>
<rect x="1240" y="584" width="2" height="1" fill="#000080"/>
<rect x="1240" y="595" width="2" height="1" fill="#000080"/>
<rect x="1240" y="698" width="2" height="1" fill="#000080"/>
<rect x="3" y="700" width="1" height="3" fill="#000080"/>
<rect x="67" y="700" width="1" height="3" fill="#000080"/>
<rect x="131" y="700" width="1" height="3" fill="#000080"/>
<rect x="195" y="700" width="1" height="3" fill="#000080"/>
<rect x="259" y="700" width="1" height="3" fill="#000080"/>
<rect x="323" y="700" width="1" height="3" fill="#000080"/>
<rect x="387" y="700" width="1" height="3" fill="#000080"/>
<rect x="451" y="700" width="1" height="3" fill="#000080"/>
<rect x="515" y="700" width="1" height="3" fill="#000080"/>
<rect x="579" y="700" width="1" height="3" fill="#000080"/>
<rect x="643" y="700" width="1" height="3" fill="#000080"/>
<rect x="707" y="700" width="1" height="3" fill="#000080"/>
<rect x="771" y="700" width="1" height="3" fill="#000080"/>
<rect x="835" y="700" width="1" height="3" fill="#000080"/>
<rect x="899" y="700" width="1" height="3" fill="#000080"/>
<rect x="963" y="700" width="1" height="3" fill="#000080"/>
<rect x="1027" y="700" width="1" height="3" fill="#000080"/>
<rect x="1091" y="700" width="1" height="3" fill="#000080"/>
<rect x="1155" y="700" width="1" height="3" fill="#000080"/>
<rect x="1219" y="700" width="1" height="3" fill="#000080"/>
<rect x="6" y="9" width="7" height="1" fill="#000080"/>
<rect x="7" y="10" width="5" height="1" fill="#000080"/>
<rect x="8" y="11" width="3" height="1" fill="#000080"/>
<rect x="9" y="12" width="1" height="1" fill="#000080"/>
<text transform="scale(0.95,1)" x="18.95 25.26 32.63 38.95 46.32 52.63 60.00 63.16 70.53 75.79 78.95 82.11 87.37 90.53 95.79 101.05 106.32 111.58 114.74 120.00 123.16 128.42 133.68 138.95 144.21 147.37 152.63 155.79 161.05 166.32 171.58 176.84 180.00 185.26 188.42 193.68 198.95 204.21" y="14" fill="#000080" stroke="#000080" stroke-width="0.2">EURUSD,H4&#160;&#160;1.1167&#160;1.1172&#160;1.1162&#160;1.1171</text>
<text transform="scale(0.95,1)" x="7.37 13.68 20.00 23.16 27.37 32.63 37.89 42.11 45.26 50.53 55.79 58.95 64.21 69.47 74.74" y="606" fill="#000080" stroke="#000080" stroke-width="0.2">RSI(14)&#160;56.8774</text>
<text transform="scale(0.95,1)" x="1310.53 1315.79 1318.95 1324.21 1329.47 1334.74" y="38" fill="#000080" stroke="#000080" stroke-width="0.2">1.1215</text>
<text transform="scale(0.95,1)" x="1310.53 1315.79 1318.95 1324.21 1329.47 1334.74" y="75" fill="#000080" stroke="#000080" stroke-width="0.2">1.1185</text>
<text transform="scale(0.95,1)" x="1310.53 1315.79 1318.95 1324.21 1329.47 1334.74" y="111" fill="#000080" stroke="#000080" stroke-width="0.2">1.1155</text>
<text transform="scale(0.95,1)" x="1310.53 1315.79 1318.95 1324.21 1329.47 1334.74" y="148" fill="#000080" stroke="#000080" stroke-width="0.2">1.1125</text>
<text transform="scale(0.95,1)" x="1310.53 1315.79 1318.95 1324.21 1329.47 1334.74" y="185" fill="#000080" stroke="#000080" stroke-width="0.2">1.1095</text>
<text transform="scale(0.95,1)" x="1310.53 1315.79 1318.95 1324.21 1329.47 1334.74" y="222" fill="#000080" stroke="#000080" stroke-width="0.2">1.1065</text>
<text transform="scale(0.95,1)" x="1310.53 1315.79 1318.95 1324.21 1329.47 1334.74" y="258" fill="#000080" stroke="#000080" stroke-width="0.2">1.1035</text>
<text transform="scale(0.95,1)" x="1310.53 1315.79 1318.95 1324.21 1329.47 1334.74" y="295" fill="#000080" stroke="#000080" stroke-width="0.2">1.1005</text>
<text transform="scale(0.95,1)" x="1310.53 1315.79 1318.95 1324.21 1329.47 1334.74" y="332" fill="#000080" stroke="#000080" stroke-width="0.2">1.0975</text>
<text transform="scale(0.95,1)" x="1310.53 1315.79 1318.95 1324.21 1329.47 1334.74" y="368" fill="#000080" stroke="#000080" stroke-width="0.2">1.0945</text>
<text transform="scale(0.95,1)" x="1310.53 1315.79 1318.95 1324.21 1329.47 1334.74" y="405" fill="#000080" stroke="#000080" stroke-width="0.2">1.0915</text>
<text transform="scale(0.95,1)" x="1310.53 1315.79 1318.95 1324.21 1329.47 1334.74" y="442" fill="#000080" stroke="#000080" stroke-width="0.2">1.0885</text>
<text transform="scale(0.95,1)" x="1310.53 1315.79 1318.95 1324.21 1329.47 1334.74" y="478" fill="#000080" stroke="#000080" stroke-width="0.2">1.0855</text>
<text transform="scale(0.95,1)" x="1310.53 1315.79 1318.95 1324.21 1329.47 1334.74" y="515" fill="#000080" stroke="#000080" stroke-width="0.2">1.0825</text>
<text transform="scale(0.95,1)" x="1310.53 1315.79 1318.95 1324.21 1329.47 1334.74" y="552" fill="#000080" stroke="#000080" stroke-width="0.2">1.0795</text>
<text transform="scale(0.95,1)" x="1310.53 1315.79 1318.95 1324.21 1329.47 1334.74" y="588" fill="#000080" stroke="#000080" stroke-width="0.2">1.0765</text>
<rect x="1241" y="83" width="36" height="11" fill="#000080"/>
<text transform="scale(0.95,1)" x="1310.53 1315.79 1318.95 1324.21 1329.47 1334.74" y="92" fill="#fff" stroke="#fff" stroke-width="0.2">1.1171</text>
<text transform="scale(0.95,1)" x="1307.37 1312.63 1317.89" y="604" fill="#000080" stroke="#000080" stroke-width="0.2">100</text>
<text transform="scale(0.95,1)" x="1307.37 1312.63" y="630" fill="#000080" stroke="#000080" stroke-width="0.2">70</text>
<text transform="scale(0.95,1)" x="1307.37 1312.63" y="671" fill="#000080" stroke="#000080" stroke-width="0.2">30</text>
<text transform="scale(0.95,1)" x="1307.37" y="696" fill="#000080" stroke="#000080" stroke-width="0.2">0</text>
<text transform="scale(0.95,1)" x="2.63 7.89 13.16 16.32 20.53 25.79 27.89 31.05 36.32 41.58 46.84" y="712" fill="#000080" stroke="#000080" stroke-width="0.2">18&#160;Jul&#160;2024</text>
<text transform="scale(0.95,1)" x="70.00 75.26 80.53 83.68 87.89 93.16 95.26 98.42 103.68 108.95 112.11 117.37" y="712" fill="#000080" stroke="#000080" stroke-width="0.2">22&#160;Jul&#160;20:00</text>
<text transform="scale(0.95,1)" x="137.37 142.63 147.89 151.05 155.26 160.53 162.63 165.79 171.05 176.32 179.47 184.74" y="712" fill="#000080" stroke="#000080" stroke-width="0.2">25&#160;Jul&#160;12:00</text>
<text transform="scale(0.95,1)" x="204.74 210.00 215.26 218.42 222.63 227.89 230.00 233.16 238.42 243.68 246.84 252.11" y="712" fill="#000080" stroke="#000080" stroke-width="0.2">30&#160;Jul&#160;04:00</text>
<text transform="scale(0.95,1)" x="272.11 277.37 280.53 286.84 292.11 297.37 300.53 305.79 311.05 314.21 319.47" y="712" fill="#000080" stroke="#000080" stroke-width="0.2">1&#160;Aug&#160;20:00</text>
<text transform="scale(0.95,1)" x="339.47 344.74 347.89 354.21 359.47 364.74 367.89 373.16 378.42 381.58 386.84" y="712" fill="#000080" stroke="#000080" stroke-width="0.2">6&#160;Aug&#160;12:00</text>
<text transform="scale(0.95,1)" x="406.84 412.11 415.26 421.58 426.84 432.11 435.26 440.53 445.79 448.95 454.21" y="712" fill="#000080" stroke="#000080" stroke-width="0.2">9&#160;Aug&#160;04:00</text>
<text transform="scale(0.95,1)" x="474.21 479.47 484.74 487.89 494.21 499.47 504.74 507.89 513.16 518.42 521.58 526.84" y="712" fill="#000080" stroke="#000080" stroke-width="0.2">13&#160;Aug&#160;20:00</text>
<text transform="scale(0.95,1)" x="541.58 546.84 552.11 555.26 561.58 566.84 572.11 575.26 580.53 585.79 588.95 594.21" y="712" fill="#000080" stroke="#000080" stroke-width="0.2">16&#160;Aug&#160;12:00</text>
<text transform="scale(0.95,1)" x="608.95 614.21 619.47 622.63 628.95 634.21 639.47 642.63 647.89 653.16 656.32 661.58" y="712" fill="#000080" stroke="#000080" stroke-width="0.2">21&#160;Aug&#160;04:00</text>
<text transform="scale(0.95,1)" x="676.32 681.58 686.84 690.00 696.32 701.58 706.84 710.00 715.26 720.53 723.68 728.95" y="712" fill="#000080" stroke="#000080" stroke-width="0.2">23&#160;Aug&#160;20:00</text>
<text transform="scale(0.95,1)" x="743.68 748.95 754.21 757.37 763.68 768.95 774.21 777.37 782.63 787.89 791.05 796.32" y="712" fill="#000080" stroke="#000080" stroke-width="0.2">28&#160;Aug&#160;12:00</text>
<text transform="scale(0.95,1)" x="811.05 816.32 819.47 825.79 831.05 836.32 839.47 844.74 850.00 853.16 858.42" y="712" fill="#000080" stroke="#000080" stroke-width="0.2">2&#160;Sep&#160;04:00</text>
<text transform="scale(0.95,1)" x="878.42 883.68 886.84 893.16 898.42 903.68 906.84 912.11 917.37 920.53 925.79" y="712" fill="#000080" stroke="#000080" stroke-width="0.2">4&#160;Sep&#160;20:00</text>
<text transform="scale(0.95,1)" x="945.79 951.05 954.21 960.53 965.79 971.05 974.21 979.47 984.74 987.89 993.16" y="712" fill="#000080" stroke="#000080" stroke-width="0.2">9&#160;Sep&#160;12:00</text>
<text transform="scale(0.95,1)" x="1013.16 1018.42 1023.68 1026.84 1033.16 1038.42 1043.68 1046.84 1052.11 1057.37 1060.53 1065.79" y="712" fill="#000080" stroke="#000080" stroke-width="0.2">12&#160;Sep&#160;04:00</text>
<text transform="scale(0.95,1)" x="1080.53 1085.79 1091.05 1094.21 1100.53 1105.79 1111.05 1114.21 1119.47 1124.74 1127.89 1133.16" y="712" fill="#000080" stroke="#000080" stroke-width="0.2">16&#160;Sep&#160;20:00</text>
<text transform="scale(0.95,1)" x="1147.89 1153.16 1158.42 1161.58 1167.89 1173.16 1178.42 1181.58 1186.84 1192.11 1195.26 1200.53" y="712" fill="#000080" stroke="#000080" stroke-width="0.2">19&#160;Sep&#160;12:00</text>
<text transform="scale(0.95,1)" x="1215.26 1220.53 1225.79 1228.95 1235.26 1240.53 1245.79 1248.95 1254.21 1259.47 1262.63 1267.89" y="712" fill="#000080" stroke="#000080" stroke-width="0.2">24&#160;Sep&#160;04:00</text>
<text transform="scale(0.95,1)" x="1282.63 1287.89 1293.16 1296.32 1302.63 1307.89 1313.16 1316.32 1321.58 1326.84 1330.00 1335.26" y="712" fill="#000080" stroke="#000080" stroke-width="0.2">26&#160;Sep&#160;20:00</text>
</svg>
</body></html>
